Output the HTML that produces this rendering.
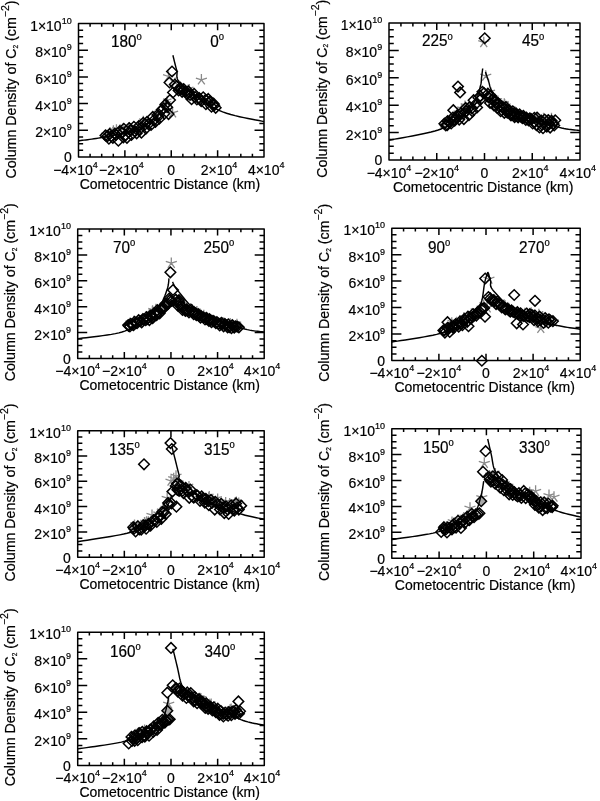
<!DOCTYPE html>
<html><head><meta charset="utf-8"><style>
html,body{margin:0;padding:0;background:#fff;}
svg{display:block;}
text{font-family:"Liberation Sans", Arial, Helvetica, sans-serif;fill:#000;stroke:#000;stroke-width:0.2px;}
</style></head><body>
<svg width="600" height="801" viewBox="0 0 600 801" font-size="14.0">
<rect width="600" height="801" fill="#fff"/>
<g><g><path d="M113.41 129.72L113.41 125.22M113.41 129.72L109.13 128.33M113.41 129.72L110.76 133.36M113.41 129.72L116.05 133.36M113.41 129.72L117.69 128.33M130.41 127.55L130.41 123.05M130.41 127.55L126.13 126.16M130.41 127.55L127.77 131.19M130.41 127.55L133.06 131.19M130.41 127.55L134.69 126.16M110.24 131.67L110.24 127.17M110.24 131.67L105.96 130.28M110.24 131.67L107.59 135.32M110.24 131.67L112.88 135.32M110.24 131.67L114.52 130.28M140.71 124.18L140.71 119.68M140.71 124.18L136.43 122.79M140.71 124.18L138.07 127.82M140.71 124.18L143.36 127.82M140.71 124.18L144.99 122.79M158.25 112.44L158.25 107.94M158.25 112.44L153.97 111.05M158.25 112.44L155.61 116.08M158.25 112.44L160.90 116.08M158.25 112.44L162.53 111.05M123.10 127.65L123.10 123.15M123.10 127.65L118.82 126.26M123.10 127.65L120.45 131.29M123.10 127.65L125.74 131.29M123.10 127.65L127.38 126.26M128.32 128.31L128.32 123.81M128.32 128.31L124.04 126.92M128.32 128.31L125.68 131.95M128.32 128.31L130.97 131.95M128.32 128.31L132.60 126.92M167.25 100.25L167.25 95.75M167.25 100.25L162.97 98.86M167.25 100.25L164.61 103.90M167.25 100.25L169.90 103.90M167.25 100.25L171.53 98.86M116.45 128.72L116.45 124.22M116.45 128.72L112.17 127.33M116.45 128.72L113.81 132.36M116.45 128.72L119.10 132.36M116.45 128.72L120.73 127.33M120.17 128.87L120.17 124.37M120.17 128.87L115.89 127.48M120.17 128.87L117.52 132.52M120.17 128.87L122.81 132.52M120.17 128.87L124.45 127.48M143.29 120.22L143.29 115.72M143.29 120.22L139.01 118.83M143.29 120.22L140.65 123.86M143.29 120.22L145.94 123.86M143.29 120.22L147.57 118.83M105.27 134.44L105.27 129.94M105.27 134.44L100.99 133.04M105.27 134.44L102.62 138.08M105.27 134.44L107.91 138.08M105.27 134.44L109.55 133.04M129.00 126.50L129.00 122.00M129.00 126.50L124.72 125.11M129.00 126.50L126.36 130.14M129.00 126.50L131.65 130.14M129.00 126.50L133.28 125.11M166.95 102.95L166.95 98.45M166.95 102.95L162.67 101.56M166.95 102.95L164.31 106.59M166.95 102.95L169.60 106.59M166.95 102.95L171.23 101.56M196.90 95.66L196.90 91.16M196.90 95.66L192.62 94.27M196.90 95.66L194.26 99.30M196.90 95.66L199.55 99.30M196.90 95.66L201.18 94.27M188.18 89.07L188.18 84.57M188.18 89.07L183.90 87.68M188.18 89.07L185.53 92.71M188.18 89.07L190.82 92.71M188.18 89.07L192.46 87.68M208.89 100.87L208.89 96.37M208.89 100.87L204.62 99.48M208.89 100.87L206.25 104.51M208.89 100.87L211.54 104.51M208.89 100.87L213.17 99.48M210.66 101.06L210.66 96.56M210.66 101.06L206.38 99.67M210.66 101.06L208.02 104.70M210.66 101.06L213.31 104.70M210.66 101.06L214.94 99.67M209.19 99.79L209.19 95.29M209.19 99.79L204.91 98.40M209.19 99.79L206.54 103.43M209.19 99.79L211.83 103.43M209.19 99.79L213.47 98.40M183.75 88.59L183.75 84.09M183.75 88.59L179.47 87.20M183.75 88.59L181.10 92.23M183.75 88.59L186.39 92.23M183.75 88.59L188.03 87.20M189.29 88.43L189.29 83.93M189.29 88.43L185.01 87.04M189.29 88.43L186.64 92.07M189.29 88.43L191.93 92.07M189.29 88.43L193.57 87.04M175.20 82.00L175.20 77.50M175.20 82.00L170.92 80.61M175.20 82.00L172.56 85.64M175.20 82.00L177.85 85.64M175.20 82.00L179.48 80.61M185.14 90.51L185.14 86.01M185.14 90.51L180.86 89.12M185.14 90.51L182.50 94.15M185.14 90.51L187.79 94.15M185.14 90.51L189.42 89.12M201.40 79.80L201.40 74.00M201.40 79.80L195.88 78.01M201.40 79.80L197.99 84.49M201.40 79.80L204.81 84.49M201.40 79.80L206.92 78.01M172.60 112.80L172.60 107.00M172.60 112.80L167.08 111.01M172.60 112.80L169.19 117.49M172.60 112.80L176.01 117.49M172.60 112.80L178.12 111.01M168.50 76.50L168.50 70.70M168.50 76.50L162.98 74.71M168.50 76.50L165.09 81.19M168.50 76.50L171.91 81.19M168.50 76.50L174.02 74.71" stroke="#8a8a8a" stroke-width="1.3" fill="none"/><g stroke="#000" stroke-width="1.5" fill="none"><path d="M105.50 130.10L110.80 135.40L105.50 140.70L100.20 135.40Z" fill="none"/><path d="M107.56 130.74L112.86 136.04L107.56 141.34L102.26 136.04Z" fill="none"/><path d="M108.92 133.39L114.22 138.69L108.92 143.99L103.62 138.69Z" fill="none"/><path d="M109.73 128.67L115.03 133.97L109.73 139.27L104.43 133.97Z" fill="none"/><path d="M111.25 130.87L116.55 136.17L111.25 141.47L105.95 136.17Z" fill="none"/><path d="M112.85 132.65L118.15 137.95L112.85 143.25L107.55 137.95Z" fill="none"/><path d="M114.94 128.42L120.24 133.72L114.94 139.02L109.64 133.72Z" fill="none"/><path d="M116.02 129.56L121.32 134.86L116.02 140.16L110.72 134.86Z" fill="none"/><path d="M118.35 135.40L123.65 140.70L118.35 146.00L113.05 140.70Z" fill="none"/><path d="M119.82 125.73L125.12 131.03L119.82 136.33L114.52 131.03Z" fill="none"/><path d="M121.99 127.62L127.29 132.92L121.99 138.22L116.69 132.92Z" fill="none"/><path d="M123.35 132.14L128.65 137.44L123.35 142.74L118.05 137.44Z" fill="none"/><path d="M123.79 123.52L129.09 128.82L123.79 134.12L118.49 128.82Z" fill="none"/><path d="M125.60 129.79L130.90 135.09L125.60 140.39L120.30 135.09Z" fill="none"/><path d="M126.95 132.49L132.25 137.79L126.95 143.09L121.65 137.79Z" fill="none"/><path d="M129.20 122.82L134.50 128.12L129.20 133.42L123.90 128.12Z" fill="none"/><path d="M130.61 125.21L135.91 130.51L130.61 135.81L125.31 130.51Z" fill="none"/><path d="M131.40 129.70L136.70 135.00L131.40 140.30L126.10 135.00Z" fill="none"/><path d="M133.91 121.48L139.21 126.78L133.91 132.08L128.61 126.78Z" fill="none"/><path d="M134.89 125.84L140.19 131.14L134.89 136.44L129.59 131.14Z" fill="none"/><path d="M136.65 127.97L141.95 133.27L136.65 138.57L131.35 133.27Z" fill="none"/><path d="M138.73 120.84L144.03 126.14L138.73 131.44L133.43 126.14Z" fill="none"/><path d="M139.43 123.97L144.73 129.27L139.43 134.57L134.13 129.27Z" fill="none"/><path d="M141.41 127.35L146.71 132.65L141.41 137.95L136.11 132.65Z" fill="none"/><path d="M143.27 117.50L148.57 122.80L143.27 128.10L137.97 122.80Z" fill="none"/><path d="M145.21 119.07L150.51 124.37L145.21 129.67L139.91 124.37Z" fill="none"/><path d="M145.89 123.25L151.19 128.55L145.89 133.85L140.59 128.55Z" fill="none"/><path d="M147.02 116.65L152.32 121.95L147.02 127.25L141.72 121.95Z" fill="none"/><path d="M148.39 118.91L153.69 124.21L148.39 129.51L143.09 124.21Z" fill="none"/><path d="M151.06 119.70L156.36 125.00L151.06 130.30L145.76 125.00Z" fill="none"/><path d="M152.78 111.64L158.08 116.94L152.78 122.24L147.48 116.94Z" fill="none"/><path d="M154.05 114.72L159.35 120.02L154.05 125.32L148.75 120.02Z" fill="none"/><path d="M155.42 116.49L160.72 121.79L155.42 127.09L150.12 121.79Z" fill="none"/><path d="M157.37 109.76L162.67 115.06L157.37 120.36L152.07 115.06Z" fill="none"/><path d="M158.35 111.04L163.65 116.34L158.35 121.64L153.05 116.34Z" fill="none"/><path d="M159.26 113.43L164.56 118.73L159.26 124.03L153.96 118.73Z" fill="none"/><path d="M161.72 104.39L167.02 109.69L161.72 114.99L156.42 109.69Z" fill="none"/><path d="M163.53 103.15L168.83 108.45L163.53 113.75L158.23 108.45Z" fill="none"/><path d="M164.41 108.32L169.71 113.62L164.41 118.92L159.11 113.62Z" fill="none"/><path d="M165.39 99.12L170.69 104.42L165.39 109.72L160.09 104.42Z" fill="none"/><path d="M167.16 101.85L172.46 107.15L167.16 112.45L161.86 107.15Z" fill="none"/><path d="M168.54 108.73L173.84 114.03L168.54 119.33L163.24 114.03Z" fill="none"/><path d="M174.82 79.26L180.12 84.56L174.82 89.86L169.52 84.56Z" fill="none"/><path d="M176.67 80.97L181.97 86.27L176.67 91.57L171.37 86.27Z" fill="none"/><path d="M178.62 85.11L183.92 90.41L178.62 95.71L173.32 90.41Z" fill="none"/><path d="M180.17 82.28L185.47 87.58L180.17 92.88L174.87 87.58Z" fill="none"/><path d="M181.00 83.88L186.30 89.18L181.00 94.48L175.70 89.18Z" fill="none"/><path d="M182.13 86.48L187.43 91.78L182.13 97.08L176.83 91.78Z" fill="none"/><path d="M183.65 83.71L188.95 89.01L183.65 94.31L178.35 89.01Z" fill="none"/><path d="M185.48 86.35L190.78 91.65L185.48 96.95L180.18 91.65Z" fill="none"/><path d="M187.28 89.03L192.58 94.33L187.28 99.63L181.98 94.33Z" fill="none"/><path d="M188.33 86.01L193.63 91.31L188.33 96.61L183.03 91.31Z" fill="none"/><path d="M190.09 89.64L195.39 94.94L190.09 100.24L184.79 94.94Z" fill="none"/><path d="M191.56 93.87L196.86 99.17L191.56 104.47L186.26 99.17Z" fill="none"/><path d="M194.09 88.58L199.39 93.88L194.09 99.18L188.79 93.88Z" fill="none"/><path d="M195.11 91.67L200.41 96.97L195.11 102.27L189.81 96.97Z" fill="none"/><path d="M196.88 94.18L202.18 99.48L196.88 104.78L191.58 99.48Z" fill="none"/><path d="M199.24 92.69L204.54 97.99L199.24 103.29L193.94 97.99Z" fill="none"/><path d="M200.22 94.21L205.52 99.51L200.22 104.81L194.92 99.51Z" fill="none"/><path d="M201.21 95.85L206.51 101.15L201.21 106.45L195.91 101.15Z" fill="none"/><path d="M203.21 91.96L208.51 97.26L203.21 102.56L197.91 97.26Z" fill="none"/><path d="M205.58 94.68L210.88 99.98L205.58 105.28L200.28 99.98Z" fill="none"/><path d="M205.89 98.94L211.19 104.24L205.89 109.54L200.59 104.24Z" fill="none"/><path d="M208.29 93.67L213.59 98.97L208.29 104.27L202.99 98.97Z" fill="none"/><path d="M209.90 96.38L215.20 101.68L209.90 106.98L204.60 101.68Z" fill="none"/><path d="M211.47 101.39L216.77 106.69L211.47 111.99L206.17 106.69Z" fill="none"/><path d="M213.60 98.34L218.90 103.64L213.60 108.94L208.30 103.64Z" fill="none"/><path d="M214.23 99.97L219.53 105.27L214.23 110.57L208.93 105.27Z" fill="none"/><path d="M215.67 102.50L220.97 107.80L215.67 113.10L210.37 107.80Z" fill="none"/><path d="M172.00 66.20L177.30 71.50L172.00 76.80L166.70 71.50Z" fill="none"/><path d="M169.50 77.20L174.80 82.50L169.50 87.80L164.20 82.50Z" fill="none"/><path d="M173.00 87.20L178.30 92.50L173.00 97.80L167.70 92.50Z" fill="none"/><path d="M170.00 94.70L175.30 100.00L170.00 105.30L164.70 100.00Z" fill="none"/></g><path d="M78.50 140.80 L79.54 140.66 L80.81 140.50 L82.28 140.33 L83.93 140.13 L85.73 139.91 L87.66 139.67 L89.69 139.40 L91.80 139.11 L93.96 138.80 L96.14 138.46 L98.33 138.09 L100.50 137.70 L102.73 137.28 L105.09 136.82 L107.57 136.33 L110.13 135.82 L112.74 135.28 L115.38 134.72 L118.00 134.14 L120.59 133.54 L123.12 132.92 L125.55 132.29 L127.85 131.65 L130.00 131.00 L132.02 130.34 L133.98 129.66 L135.86 128.96 L137.67 128.24 L139.41 127.51 L141.09 126.77 L142.71 126.01 L144.28 125.23 L145.79 124.44 L147.24 123.64 L148.64 122.83 L150.00 122.00 L151.30 121.15 L152.53 120.28 L153.70 119.39 L154.81 118.48 L155.87 117.56 L156.88 116.62 L157.83 115.68 L158.74 114.74 L159.61 113.80 L160.44 112.86 L161.24 111.92 L162.00 111.00 L162.73 110.05 L163.42 109.04 L164.06 107.99 L164.67 106.93 L165.23 105.86 L165.75 104.81 L166.23 103.80 L166.67 102.85 L167.06 101.98 L167.42 101.20 L167.73 100.53 L168.00 100.00" stroke="#000" stroke-width="1.45" fill="none"/><path d="M172.90 55.25 L173.08 55.98 L173.30 56.89 L173.56 57.96 L173.86 59.16 L174.17 60.47 L174.51 61.85 L174.87 63.28 L175.23 64.73 L175.60 66.18 L175.98 67.59 L176.34 68.94 L176.70 70.20 L176.95 71.36 L177.04 72.45 L177.02 73.48 L176.95 74.49 L176.88 75.48 L176.88 76.50 L177.00 77.55 L177.29 78.66 L177.80 79.86 L178.61 81.17 L179.76 82.61 L181.30 84.20 L183.26 86.00 L185.58 88.03 L188.23 90.24 L191.14 92.59 L194.29 95.01 L197.63 97.47 L201.10 99.93 L204.67 102.33 L208.29 104.62 L211.91 106.76 L215.50 108.70 L219.00 110.40 L222.64 111.89 L226.60 113.26 L230.79 114.52 L235.13 115.66 L239.51 116.70 L243.86 117.64 L248.07 118.49 L252.06 119.25 L255.74 119.94 L259.02 120.56 L261.80 121.11 L264.00 121.60" stroke="#000" stroke-width="1.45" fill="none"/></g><path d="M90.09 157.00V153.66M90.09 23.50V26.84M101.69 157.00V153.66M101.69 23.50V26.84M113.28 157.00V153.66M113.28 23.50V26.84M124.88 157.00V150.19M124.88 23.50V30.31M136.47 157.00V153.66M136.47 23.50V26.84M148.06 157.00V153.66M148.06 23.50V26.84M159.66 157.00V153.66M159.66 23.50V26.84M171.25 157.00V150.19M171.25 23.50V30.31M182.84 157.00V153.66M182.84 23.50V26.84M194.44 157.00V153.66M194.44 23.50V26.84M206.03 157.00V153.66M206.03 23.50V26.84M217.62 157.00V150.19M217.62 23.50V30.31M229.22 157.00V153.66M229.22 23.50V26.84M240.81 157.00V153.66M240.81 23.50V26.84M252.41 157.00V153.66M252.41 23.50V26.84M78.50 150.32H83.14M264.00 150.32H259.36M78.50 143.65H83.14M264.00 143.65H259.36M78.50 136.97H83.14M264.00 136.97H259.36M78.50 130.30H87.96M264.00 130.30H254.54M78.50 123.62H83.14M264.00 123.62H259.36M78.50 116.95H83.14M264.00 116.95H259.36M78.50 110.28H83.14M264.00 110.28H259.36M78.50 103.60H87.96M264.00 103.60H254.54M78.50 96.92H83.14M264.00 96.92H259.36M78.50 90.25H83.14M264.00 90.25H259.36M78.50 83.57H83.14M264.00 83.57H259.36M78.50 76.90H87.96M264.00 76.90H254.54M78.50 70.22H83.14M264.00 70.22H259.36M78.50 63.55H83.14M264.00 63.55H259.36M78.50 56.88H83.14M264.00 56.88H259.36M78.50 50.20H87.96M264.00 50.20H254.54M78.50 43.53H83.14M264.00 43.53H259.36M78.50 36.85H83.14M264.00 36.85H259.36M78.50 30.18H83.14M264.00 30.18H259.36" stroke="#000" stroke-width="1.5" fill="none"/><rect x="78.50" y="23.50" width="185.50" height="133.50" stroke="#000" stroke-width="1.5" stroke-linejoin="round" fill="none"/><text x="71.70" y="162.30" text-anchor="end">0</text><text x="71.70" y="137.30" text-anchor="end">2×10<tspan dy="-7.0" font-size="9.0">9</tspan></text><text x="71.70" y="110.60" text-anchor="end">4×10<tspan dy="-7.0" font-size="9.0">9</tspan></text><text x="71.70" y="83.90" text-anchor="end">6×10<tspan dy="-7.0" font-size="9.0">9</tspan></text><text x="71.70" y="57.20" text-anchor="end">8×10<tspan dy="-7.0" font-size="9.0">9</tspan></text><text x="71.70" y="30.50" text-anchor="end">1×10<tspan dy="-7.0" font-size="9.0">10</tspan></text><text x="75.50" y="175.20" text-anchor="middle">−4×10<tspan dy="-7.0" font-size="9.0">4</tspan></text><text x="121.47" y="175.20" text-anchor="middle">−2×10<tspan dy="-7.0" font-size="9.0">4</tspan></text><text x="171.25" y="175.20" text-anchor="middle">0</text><text x="219.03" y="175.20" text-anchor="middle">2×10<tspan dy="-7.0" font-size="9.0">4</tspan></text><text x="266.20" y="175.20" text-anchor="middle">4×10<tspan dy="-7.0" font-size="9.0">4</tspan></text><text x="169.95" y="188.60" text-anchor="middle">Cometocentric Distance (km)</text><text transform="translate(16.00 89.55) rotate(-90)" x="0" y="0" text-anchor="middle" font-size="14.2">Column Density of C<tspan dy="1.6" font-size="6.5">2</tspan><tspan dy="-1.6"> (cm</tspan><tspan dy="-7.5" font-size="10.5">−2</tspan><tspan dy="7.5">)</tspan></text><text transform="translate(110.90 47.20) scale(1 1.07)" x="0" y="0" font-size="15.3">180<tspan dy="-6.3" font-size="9.5">o</tspan></text><text transform="translate(210.30 47.20) scale(1 1.07)" x="0" y="0" font-size="15.3">0<tspan dy="-6.3" font-size="9.5">o</tspan></text></g><g><g><path d="M448.51 121.60L448.51 117.10M448.51 121.60L444.23 120.21M448.51 121.60L445.86 125.24M448.51 121.60L451.15 125.24M448.51 121.60L452.78 120.21M457.86 112.29L457.86 107.79M457.86 112.29L453.58 110.90M457.86 112.29L455.21 115.93M457.86 112.29L460.50 115.93M457.86 112.29L462.14 110.90M467.50 107.38L467.50 102.88M467.50 107.38L463.22 105.99M467.50 107.38L464.86 111.02M467.50 107.38L470.15 111.02M467.50 107.38L471.78 105.99M460.67 112.62L460.67 108.12M460.67 112.62L456.39 111.23M460.67 112.62L458.02 116.26M460.67 112.62L463.31 116.26M460.67 112.62L464.95 111.23M464.07 108.31L464.07 103.81M464.07 108.31L459.79 106.92M464.07 108.31L461.42 111.95M464.07 108.31L466.71 111.95M464.07 108.31L468.35 106.92M464.99 105.10L464.99 100.60M464.99 105.10L460.71 103.71M464.99 105.10L462.34 108.74M464.99 105.10L467.63 108.74M464.99 105.10L469.27 103.71M461.49 108.38L461.49 103.88M461.49 108.38L457.21 106.99M461.49 108.38L458.84 112.02M461.49 108.38L464.13 112.02M461.49 108.38L465.77 106.99M443.17 124.78L443.17 120.28M443.17 124.78L438.89 123.39M443.17 124.78L440.52 128.42M443.17 124.78L445.81 128.42M443.17 124.78L447.44 123.39M450.24 118.18L450.24 113.68M450.24 118.18L445.96 116.79M450.24 118.18L447.59 121.82M450.24 118.18L452.88 121.82M450.24 118.18L454.52 116.79M504.28 102.65L504.28 98.15M504.28 102.65L500.00 101.25M504.28 102.65L501.64 106.29M504.28 102.65L506.93 106.29M504.28 102.65L508.56 101.25M537.58 117.13L537.58 112.63M537.58 117.13L533.30 115.74M537.58 117.13L534.94 120.77M537.58 117.13L540.23 120.77M537.58 117.13L541.86 115.74M500.07 102.42L500.07 97.92M500.07 102.42L495.79 101.03M500.07 102.42L497.43 106.06M500.07 102.42L502.72 106.06M500.07 102.42L504.35 101.03M551.49 117.24L551.49 112.74M551.49 117.24L547.21 115.85M551.49 117.24L548.85 120.88M551.49 117.24L554.14 120.88M551.49 117.24L555.77 115.85M543.51 117.36L543.51 112.86M543.51 117.36L539.23 115.97M543.51 117.36L540.86 121.00M543.51 117.36L546.15 121.00M543.51 117.36L547.79 115.97M521.16 115.52L521.16 111.02M521.16 115.52L516.88 114.13M521.16 115.52L518.51 119.16M521.16 115.52L523.80 119.16M521.16 115.52L525.43 114.13M514.12 111.18L514.12 106.68M514.12 111.18L509.84 109.79M514.12 111.18L511.48 114.82M514.12 111.18L516.77 114.82M514.12 111.18L518.40 109.79M534.45 119.13L534.45 114.63M534.45 119.13L530.17 117.74M534.45 119.13L531.81 122.78M534.45 119.13L537.10 122.78M534.45 119.13L538.73 117.74M510.65 111.42L510.65 106.92M510.65 111.42L506.37 110.03M510.65 111.42L508.00 115.06M510.65 111.42L513.29 115.06M510.65 111.42L514.93 110.03M535.76 117.47L535.76 112.97M535.76 117.47L531.48 116.08M535.76 117.47L533.12 121.11M535.76 117.47L538.41 121.11M535.76 117.47L540.04 116.08M514.92 110.71L514.92 106.21M514.92 110.71L510.64 109.32M514.92 110.71L512.28 114.35M514.92 110.71L517.57 114.35M514.92 110.71L519.20 109.32M490.75 91.40L490.75 86.90M490.75 91.40L486.47 90.01M490.75 91.40L488.11 95.04M490.75 91.40L493.40 95.04M490.75 91.40L495.03 90.01M491.88 95.58L491.88 91.08M491.88 95.58L487.60 94.19M491.88 95.58L489.23 99.22M491.88 95.58L494.52 99.22M491.88 95.58L496.16 94.19M504.64 103.60L504.64 99.10M504.64 103.60L500.36 102.21M504.64 103.60L501.99 107.24M504.64 103.60L507.28 107.24M504.64 103.60L508.92 102.21M492.83 97.04L492.83 92.54M492.83 97.04L488.55 95.65M492.83 97.04L490.18 100.68M492.83 97.04L495.47 100.68M492.83 97.04L497.11 95.65M547.07 119.27L547.07 114.77M547.07 119.27L542.79 117.88M547.07 119.27L544.42 122.91M547.07 119.27L549.71 122.91M547.07 119.27L551.35 117.88M506.45 105.37L506.45 100.87M506.45 105.37L502.17 103.98M506.45 105.37L503.81 109.01M506.45 105.37L509.10 109.01M506.45 105.37L510.73 103.98M507.22 107.07L507.22 102.57M507.22 107.07L502.94 105.68M507.22 107.07L504.58 110.71M507.22 107.07L509.87 110.71M507.22 107.07L511.50 105.68M497.87 100.10L497.87 95.60M497.87 100.10L493.59 98.71M497.87 100.10L495.22 103.74M497.87 100.10L500.51 103.74M497.87 100.10L502.15 98.71M505.16 107.94L505.16 103.44M505.16 107.94L500.88 106.55M505.16 107.94L502.52 111.58M505.16 107.94L507.81 111.58M505.16 107.94L509.44 106.55M483.75 42.50L483.75 36.70M483.75 42.50L478.23 40.71M483.75 42.50L480.34 47.19M483.75 42.50L487.16 47.19M483.75 42.50L489.27 40.71M485.75 76.00L485.75 70.20M485.75 76.00L480.23 74.21M485.75 76.00L482.34 80.69M485.75 76.00L489.16 80.69M485.75 76.00L491.27 74.21" stroke="#8a8a8a" stroke-width="1.3" fill="none"/><g stroke="#000" stroke-width="1.5" fill="none"><path d="M444.39 118.40L449.69 123.70L444.39 129.00L439.09 123.70Z" fill="none"/><path d="M445.81 120.08L451.11 125.38L445.81 130.68L440.51 125.38Z" fill="none"/><path d="M447.28 119.74L452.58 125.04L447.28 130.34L441.98 125.04Z" fill="none"/><path d="M447.66 115.73L452.96 121.03L447.66 126.33L442.36 121.03Z" fill="none"/><path d="M449.08 116.47L454.38 121.77L449.08 127.07L443.78 121.77Z" fill="none"/><path d="M451.15 118.09L456.45 123.39L451.15 128.69L445.85 123.39Z" fill="none"/><path d="M452.91 112.29L458.21 117.59L452.91 122.89L447.61 117.59Z" fill="none"/><path d="M454.08 113.96L459.38 119.26L454.08 124.56L448.78 119.26Z" fill="none"/><path d="M454.71 115.22L460.01 120.52L454.71 125.82L449.41 120.52Z" fill="none"/><path d="M457.35 109.92L462.65 115.22L457.35 120.52L452.05 115.22Z" fill="none"/><path d="M458.57 111.04L463.87 116.34L458.57 121.64L453.27 116.34Z" fill="none"/><path d="M459.19 114.29L464.49 119.59L459.19 124.89L453.89 119.59Z" fill="none"/><path d="M460.86 107.98L466.16 113.28L460.86 118.58L455.56 113.28Z" fill="none"/><path d="M463.23 108.64L468.53 113.94L463.23 119.24L457.93 113.94Z" fill="none"/><path d="M463.86 113.74L469.16 119.04L463.86 124.34L458.56 119.04Z" fill="none"/><path d="M465.77 102.66L471.07 107.96L465.77 113.26L460.47 107.96Z" fill="none"/><path d="M466.36 105.79L471.66 111.09L466.36 116.39L461.06 111.09Z" fill="none"/><path d="M468.93 109.83L474.23 115.13L468.93 120.43L463.63 115.13Z" fill="none"/><path d="M469.28 102.13L474.58 107.43L469.28 112.73L463.98 107.43Z" fill="none"/><path d="M471.94 103.05L477.24 108.35L471.94 113.65L466.64 108.35Z" fill="none"/><path d="M472.47 105.98L477.77 111.28L472.47 116.58L467.17 111.28Z" fill="none"/><path d="M473.60 94.89L478.90 100.19L473.60 105.49L468.30 100.19Z" fill="none"/><path d="M476.27 98.29L481.57 103.59L476.27 108.89L470.97 103.59Z" fill="none"/><path d="M477.07 102.13L482.37 107.43L477.07 112.73L471.77 107.43Z" fill="none"/><path d="M478.39 92.43L483.69 97.73L478.39 103.03L473.09 97.73Z" fill="none"/><path d="M480.40 90.88L485.70 96.18L480.40 101.48L475.10 96.18Z" fill="none"/><path d="M481.02 93.68L486.32 98.98L481.02 104.28L475.72 98.98Z" fill="none"/><path d="M482.45 86.47L487.75 91.77L482.45 97.07L477.15 91.77Z" fill="none"/><path d="M483.93 87.88L489.23 93.18L483.93 98.48L478.63 93.18Z" fill="none"/><path d="M487.86 88.37L493.16 93.67L487.86 98.97L482.56 93.67Z" fill="none"/><path d="M488.58 92.10L493.88 97.40L488.58 102.70L483.28 97.40Z" fill="none"/><path d="M490.04 97.68L495.34 102.98L490.04 108.28L484.74 102.98Z" fill="none"/><path d="M490.70 90.38L496.00 95.68L490.70 100.98L485.40 95.68Z" fill="none"/><path d="M492.05 94.19L497.35 99.49L492.05 104.79L486.75 99.49Z" fill="none"/><path d="M493.87 100.06L499.17 105.36L493.87 110.66L488.57 105.36Z" fill="none"/><path d="M494.81 95.05L500.11 100.35L494.81 105.65L489.51 100.35Z" fill="none"/><path d="M496.41 98.65L501.71 103.95L496.41 109.25L491.11 103.95Z" fill="none"/><path d="M497.25 102.55L502.55 107.85L497.25 113.15L491.95 107.85Z" fill="none"/><path d="M498.32 98.02L503.62 103.32L498.32 108.62L493.02 103.32Z" fill="none"/><path d="M499.43 101.34L504.73 106.64L499.43 111.94L494.13 106.64Z" fill="none"/><path d="M500.65 105.84L505.95 111.14L500.65 116.44L495.35 111.14Z" fill="none"/><path d="M502.11 101.21L507.41 106.51L502.11 111.81L496.81 106.51Z" fill="none"/><path d="M503.59 102.98L508.89 108.28L503.59 113.58L498.29 108.28Z" fill="none"/><path d="M504.32 107.51L509.62 112.81L504.32 118.11L499.02 112.81Z" fill="none"/><path d="M505.84 101.69L511.14 106.99L505.84 112.29L500.54 106.99Z" fill="none"/><path d="M506.18 104.93L511.48 110.23L506.18 115.53L500.88 110.23Z" fill="none"/><path d="M507.31 107.36L512.61 112.66L507.31 117.96L502.01 112.66Z" fill="none"/><path d="M508.50 104.85L513.80 110.15L508.50 115.45L503.20 110.15Z" fill="none"/><path d="M510.54 108.38L515.84 113.68L510.54 118.98L505.24 113.68Z" fill="none"/><path d="M510.98 110.03L516.28 115.33L510.98 120.63L505.68 115.33Z" fill="none"/><path d="M512.77 106.06L518.07 111.36L512.77 116.66L507.47 111.36Z" fill="none"/><path d="M514.22 109.86L519.52 115.16L514.22 120.46L508.92 115.16Z" fill="none"/><path d="M514.62 111.73L519.92 117.03L514.62 122.33L509.32 117.03Z" fill="none"/><path d="M516.03 107.95L521.33 113.25L516.03 118.55L510.73 113.25Z" fill="none"/><path d="M517.92 110.99L523.22 116.29L517.92 121.59L512.62 116.29Z" fill="none"/><path d="M518.12 112.08L523.42 117.38L518.12 122.68L512.82 117.38Z" fill="none"/><path d="M519.73 109.16L525.03 114.46L519.73 119.76L514.43 114.46Z" fill="none"/><path d="M520.54 111.06L525.84 116.36L520.54 121.66L515.24 116.36Z" fill="none"/><path d="M522.36 112.77L527.66 118.07L522.36 123.37L517.06 118.07Z" fill="none"/><path d="M523.35 110.44L528.65 115.74L523.35 121.04L518.05 115.74Z" fill="none"/><path d="M523.90 112.09L529.20 117.39L523.90 122.69L518.60 117.39Z" fill="none"/><path d="M525.81 114.63L531.11 119.93L525.81 125.23L520.51 119.93Z" fill="none"/><path d="M526.34 112.24L531.64 117.54L526.34 122.84L521.04 117.54Z" fill="none"/><path d="M528.39 114.50L533.69 119.80L528.39 125.10L523.09 119.80Z" fill="none"/><path d="M528.76 115.10L534.06 120.40L528.76 125.70L523.46 120.40Z" fill="none"/><path d="M529.87 112.96L535.17 118.26L529.87 123.56L524.57 118.26Z" fill="none"/><path d="M531.34 113.93L536.64 119.23L531.34 124.53L526.04 119.23Z" fill="none"/><path d="M532.71 118.13L538.01 123.43L532.71 128.73L527.41 123.43Z" fill="none"/><path d="M534.37 112.56L539.67 117.86L534.37 123.16L529.07 117.86Z" fill="none"/><path d="M534.76 116.81L540.06 122.11L534.76 127.41L529.46 122.11Z" fill="none"/><path d="M536.45 119.72L541.75 125.02L536.45 130.32L531.15 125.02Z" fill="none"/><path d="M537.07 112.22L542.37 117.52L537.07 122.82L531.77 117.52Z" fill="none"/><path d="M538.97 116.87L544.27 122.17L538.97 127.47L533.67 122.17Z" fill="none"/><path d="M539.43 122.15L544.73 127.45L539.43 132.75L534.13 127.45Z" fill="none"/><path d="M541.29 115.28L546.59 120.58L541.29 125.88L535.99 120.58Z" fill="none"/><path d="M541.82 119.12L547.12 124.42L541.82 129.72L536.52 124.42Z" fill="none"/><path d="M542.99 122.96L548.29 128.26L542.99 133.56L537.69 128.26Z" fill="none"/><path d="M544.64 114.34L549.94 119.64L544.64 124.94L539.34 119.64Z" fill="none"/><path d="M545.95 120.32L551.25 125.62L545.95 130.92L540.65 125.62Z" fill="none"/><path d="M546.80 121.25L552.10 126.55L546.80 131.85L541.50 126.55Z" fill="none"/><path d="M548.30 114.73L553.60 120.03L548.30 125.33L543.00 120.03Z" fill="none"/><path d="M548.99 118.24L554.29 123.54L548.99 128.84L543.69 123.54Z" fill="none"/><path d="M550.11 122.22L555.41 127.52L550.11 132.82L544.81 127.52Z" fill="none"/><path d="M551.61 115.41L556.91 120.71L551.61 126.01L546.31 120.71Z" fill="none"/><path d="M553.33 118.20L558.63 123.50L553.33 128.80L548.03 123.50Z" fill="none"/><path d="M554.22 120.21L559.52 125.51L554.22 130.81L548.92 125.51Z" fill="none"/><path d="M555.22 114.98L560.52 120.28L555.22 125.58L549.92 120.28Z" fill="none"/><path d="M484.75 32.95L490.05 38.25L484.75 43.55L479.45 38.25Z" fill="none"/><path d="M458.00 81.30L463.30 86.60L458.00 91.90L452.70 86.60Z" fill="none"/><path d="M460.10 87.10L465.40 92.40L460.10 97.70L454.80 92.40Z" fill="none"/><path d="M453.30 104.90L458.60 110.20L453.30 115.50L448.00 110.20Z" fill="none"/></g><path d="M389.00 140.20 L391.46 139.72 L394.67 139.13 L398.48 138.46 L402.77 137.70 L407.40 136.87 L412.24 135.97 L417.15 135.04 L422.01 134.06 L426.67 133.06 L431.02 132.04 L434.90 131.02 L438.20 130.00 L441.00 128.97 L443.50 127.90 L445.74 126.79 L447.75 125.65 L449.57 124.49 L451.24 123.30 L452.79 122.10 L454.25 120.88 L455.67 119.66 L457.08 118.44 L458.51 117.21 L460.00 116.00 L461.52 114.79 L463.00 113.56 L464.45 112.33 L465.86 111.09 L467.21 109.84 L468.52 108.58 L469.77 107.32 L470.96 106.06 L472.08 104.79 L473.13 103.53 L474.10 102.26 L475.00 101.00 L475.80 99.71 L476.52 98.39 L477.15 97.04 L477.70 95.67 L478.19 94.31 L478.62 92.95 L479.00 91.62 L479.34 90.31 L479.66 89.06 L479.95 87.87 L480.23 86.74 L480.50 85.70 L480.75 84.75 L480.94 83.88 L481.08 83.08 L481.19 82.34 L481.27 81.64 L481.32 80.98 L481.36 80.34 L481.40 79.72 L481.43 79.09 L481.47 78.46 L481.52 77.80 L481.60 77.10 L481.70 76.36 L481.80 75.57 L481.90 74.75 L482.01 73.91 L482.11 73.08 L482.22 72.26 L482.32 71.47 L482.41 70.73 L482.50 70.05 L482.58 69.44 L482.65 68.92 L482.70 68.50" stroke="#000" stroke-width="1.45" fill="none"/><path d="M485.50 72.00 L485.65 72.44 L485.83 73.00 L486.05 73.64 L486.29 74.37 L486.55 75.16 L486.83 76.00 L487.12 76.87 L487.42 77.76 L487.72 78.65 L488.01 79.52 L488.29 80.36 L488.55 81.15 L488.79 81.91 L489.00 82.67 L489.19 83.42 L489.37 84.18 L489.55 84.93 L489.74 85.69 L489.95 86.45 L490.19 87.21 L490.46 87.97 L490.78 88.74 L491.16 89.52 L491.60 90.30 L492.08 91.08 L492.56 91.86 L493.05 92.63 L493.57 93.41 L494.13 94.19 L494.74 94.97 L495.41 95.77 L496.14 96.58 L496.96 97.40 L497.87 98.24 L498.88 99.11 L500.00 100.00 L501.21 100.91 L502.47 101.84 L503.79 102.78 L505.19 103.73 L506.67 104.70 L508.23 105.69 L509.90 106.69 L511.67 107.71 L513.55 108.76 L515.57 109.82 L517.71 110.90 L520.00 112.00 L522.52 113.16 L525.31 114.42 L528.31 115.74 L531.49 117.10 L534.79 118.48 L538.14 119.86 L541.51 121.20 L544.84 122.50 L548.08 123.72 L551.17 124.84 L554.06 125.84 L556.70 126.70 L559.18 127.42 L561.63 128.02 L564.01 128.53 L566.32 128.94 L568.54 129.29 L570.64 129.57 L572.62 129.80 L574.46 129.99 L576.13 130.15 L577.62 130.30 L578.92 130.45 L580.00 130.60" stroke="#000" stroke-width="1.45" fill="none"/></g><path d="M400.94 160.00V156.57M400.94 23.00V26.43M412.88 160.00V156.57M412.88 23.00V26.43M424.81 160.00V156.57M424.81 23.00V26.43M436.75 160.00V153.01M436.75 23.00V29.99M448.69 160.00V156.57M448.69 23.00V26.43M460.62 160.00V156.57M460.62 23.00V26.43M472.56 160.00V156.57M472.56 23.00V26.43M484.50 160.00V153.01M484.50 23.00V29.99M496.44 160.00V156.57M496.44 23.00V26.43M508.38 160.00V156.57M508.38 23.00V26.43M520.31 160.00V156.57M520.31 23.00V26.43M532.25 160.00V153.01M532.25 23.00V29.99M544.19 160.00V156.57M544.19 23.00V26.43M556.12 160.00V156.57M556.12 23.00V26.43M568.06 160.00V156.57M568.06 23.00V26.43M389.00 153.15H393.77M580.00 153.15H575.23M389.00 146.30H393.77M580.00 146.30H575.23M389.00 139.45H393.77M580.00 139.45H575.23M389.00 132.60H398.74M580.00 132.60H570.26M389.00 125.75H393.77M580.00 125.75H575.23M389.00 118.90H393.77M580.00 118.90H575.23M389.00 112.05H393.77M580.00 112.05H575.23M389.00 105.20H398.74M580.00 105.20H570.26M389.00 98.35H393.77M580.00 98.35H575.23M389.00 91.50H393.77M580.00 91.50H575.23M389.00 84.65H393.77M580.00 84.65H575.23M389.00 77.80H398.74M580.00 77.80H570.26M389.00 70.95H393.77M580.00 70.95H575.23M389.00 64.10H393.77M580.00 64.10H575.23M389.00 57.25H393.77M580.00 57.25H575.23M389.00 50.40H398.74M580.00 50.40H570.26M389.00 43.55H393.77M580.00 43.55H575.23M389.00 36.70H393.77M580.00 36.70H575.23M389.00 29.85H393.77M580.00 29.85H575.23" stroke="#000" stroke-width="1.5" fill="none"/><rect x="389.00" y="23.00" width="191.00" height="137.00" stroke="#000" stroke-width="1.5" stroke-linejoin="round" fill="none"/><text x="382.20" y="165.30" text-anchor="end">0</text><text x="382.20" y="139.60" text-anchor="end">2×10<tspan dy="-7.0" font-size="9.0">9</tspan></text><text x="382.20" y="112.20" text-anchor="end">4×10<tspan dy="-7.0" font-size="9.0">9</tspan></text><text x="382.20" y="84.80" text-anchor="end">6×10<tspan dy="-7.0" font-size="9.0">9</tspan></text><text x="382.20" y="57.40" text-anchor="end">8×10<tspan dy="-7.0" font-size="9.0">9</tspan></text><text x="382.20" y="30.00" text-anchor="end">1×10<tspan dy="-7.0" font-size="9.0">10</tspan></text><text x="389.00" y="178.00" text-anchor="middle">−4×10<tspan dy="-7.0" font-size="9.0">4</tspan></text><text x="436.75" y="178.00" text-anchor="middle">−2×10<tspan dy="-7.0" font-size="9.0">4</tspan></text><text x="484.50" y="178.00" text-anchor="middle">0</text><text x="530.25" y="178.00" text-anchor="middle">2×10<tspan dy="-7.0" font-size="9.0">4</tspan></text><text x="577.80" y="178.00" text-anchor="middle">4×10<tspan dy="-7.0" font-size="9.0">4</tspan></text><text x="483.20" y="192.30" text-anchor="middle">Cometocentric Distance (km)</text><text transform="translate(326.50 88.70) rotate(-90)" x="0" y="0" text-anchor="middle" font-size="14.2">Column Density of C<tspan dy="1.6" font-size="6.5">2</tspan><tspan dy="-1.6"> (cm</tspan><tspan dy="-7.5" font-size="10.5">−2</tspan><tspan dy="7.5">)</tspan></text><text transform="translate(422.00 46.40) scale(1 1.07)" x="0" y="0" font-size="15.3">225<tspan dy="-6.3" font-size="9.5">o</tspan></text><text transform="translate(521.90 46.40) scale(1 1.07)" x="0" y="0" font-size="15.3">45<tspan dy="-6.3" font-size="9.5">o</tspan></text></g><g><g><path d="M160.29 310.25L160.29 305.75M160.29 310.25L156.01 308.85M160.29 310.25L157.65 313.89M160.29 310.25L162.94 313.89M160.29 310.25L164.57 308.85M149.23 313.33L149.23 308.83M149.23 313.33L144.95 311.94M149.23 313.33L146.58 316.97M149.23 313.33L151.87 316.97M149.23 313.33L153.51 311.94M148.56 315.20L148.56 310.70M148.56 315.20L144.28 313.81M148.56 315.20L145.91 318.84M148.56 315.20L151.20 318.84M148.56 315.20L152.84 313.81M161.51 307.06L161.51 302.56M161.51 307.06L157.23 305.67M161.51 307.06L158.87 310.70M161.51 307.06L164.16 310.70M161.51 307.06L165.79 305.67M155.92 308.21L155.92 303.71M155.92 308.21L151.64 306.82M155.92 308.21L153.28 311.85M155.92 308.21L158.57 311.85M155.92 308.21L160.20 306.82M133.63 320.23L133.63 315.73M133.63 320.23L129.35 318.83M133.63 320.23L130.99 323.87M133.63 320.23L136.28 323.87M133.63 320.23L137.91 318.83M160.44 306.72L160.44 302.22M160.44 306.72L156.17 305.32M160.44 306.72L157.80 310.36M160.44 306.72L163.09 310.36M160.44 306.72L164.72 305.32M152.55 309.69L152.55 305.19M152.55 309.69L148.27 308.30M152.55 309.69L149.90 313.33M152.55 309.69L155.19 313.33M152.55 309.69L156.83 308.30M129.73 322.21L129.73 317.71M129.73 322.21L125.45 320.82M129.73 322.21L127.08 325.85M129.73 322.21L132.37 325.85M129.73 322.21L134.01 320.82M203.80 314.22L203.80 309.72M203.80 314.22L199.52 312.83M203.80 314.22L201.15 317.86M203.80 314.22L206.44 317.86M203.80 314.22L208.08 312.83M187.31 305.69L187.31 301.19M187.31 305.69L183.03 304.30M187.31 305.69L184.67 309.33M187.31 305.69L189.96 309.33M187.31 305.69L191.59 304.30M196.89 310.40L196.89 305.90M196.89 310.40L192.61 309.01M196.89 310.40L194.24 314.04M196.89 310.40L199.53 314.04M196.89 310.40L201.16 309.01M190.30 307.46L190.30 302.96M190.30 307.46L186.02 306.07M190.30 307.46L187.66 311.10M190.30 307.46L192.95 311.10M190.30 307.46L194.58 306.07M211.46 320.83L211.46 316.33M211.46 320.83L207.18 319.44M211.46 320.83L208.81 324.47M211.46 320.83L214.10 324.47M211.46 320.83L215.74 319.44M222.98 321.54L222.98 317.04M222.98 321.54L218.70 320.15M222.98 321.54L220.33 325.18M222.98 321.54L225.62 325.18M222.98 321.54L227.26 320.15M201.49 315.22L201.49 310.72M201.49 315.22L197.21 313.83M201.49 315.22L198.84 318.86M201.49 315.22L204.13 318.86M201.49 315.22L205.77 313.83M199.12 313.11L199.12 308.61M199.12 313.11L194.84 311.72M199.12 313.11L196.47 316.75M199.12 313.11L201.76 316.75M199.12 313.11L203.40 311.72M178.97 299.75L178.97 295.25M178.97 299.75L174.69 298.36M178.97 299.75L176.33 303.39M178.97 299.75L181.62 303.39M178.97 299.75L183.25 298.36M236.93 323.32L236.93 318.82M236.93 323.32L232.65 321.93M236.93 323.32L234.29 326.96M236.93 323.32L239.58 326.96M236.93 323.32L241.21 321.93M207.22 318.04L207.22 313.54M207.22 318.04L202.94 316.64M207.22 318.04L204.57 321.68M207.22 318.04L209.86 321.68M207.22 318.04L211.50 316.64M230.22 322.42L230.22 317.92M230.22 322.42L225.94 321.03M230.22 322.42L227.58 326.07M230.22 322.42L232.87 326.07M230.22 322.42L234.50 321.03M192.35 308.51L192.35 304.01M192.35 308.51L188.07 307.12M192.35 308.51L189.70 312.15M192.35 308.51L194.99 312.15M192.35 308.51L196.63 307.12M200.58 314.46L200.58 309.96M200.58 314.46L196.30 313.07M200.58 314.46L197.94 318.10M200.58 314.46L203.23 318.10M200.58 314.46L204.86 313.07M171.30 263.20L171.30 257.40M171.30 263.20L165.78 261.41M171.30 263.20L167.89 267.89M171.30 263.20L174.71 267.89M171.30 263.20L176.82 261.41" stroke="#8a8a8a" stroke-width="1.3" fill="none"/><g stroke="#000" stroke-width="1.5" fill="none"><path d="M128.22 319.76L133.52 325.06L128.22 330.36L122.92 325.06Z" fill="none"/><path d="M128.56 320.57L133.86 325.87L128.56 331.17L123.26 325.87Z" fill="none"/><path d="M129.89 321.20L135.19 326.50L129.89 331.80L124.59 326.50Z" fill="none"/><path d="M130.75 318.50L136.05 323.80L130.75 329.10L125.45 323.80Z" fill="none"/><path d="M132.59 319.06L137.89 324.36L132.59 329.66L127.29 324.36Z" fill="none"/><path d="M133.50 319.96L138.80 325.26L133.50 330.56L128.20 325.26Z" fill="none"/><path d="M134.51 316.59L139.81 321.89L134.51 327.19L129.21 321.89Z" fill="none"/><path d="M135.86 317.52L141.16 322.82L135.86 328.12L130.56 322.82Z" fill="none"/><path d="M137.05 317.88L142.35 323.18L137.05 328.48L131.75 323.18Z" fill="none"/><path d="M138.63 314.86L143.93 320.16L138.63 325.46L133.33 320.16Z" fill="none"/><path d="M140.23 315.95L145.53 321.25L140.23 326.55L134.93 321.25Z" fill="none"/><path d="M141.69 317.05L146.99 322.35L141.69 327.65L136.39 322.35Z" fill="none"/><path d="M142.89 313.89L148.19 319.19L142.89 324.49L137.59 319.19Z" fill="none"/><path d="M143.74 314.25L149.04 319.55L143.74 324.85L138.44 319.55Z" fill="none"/><path d="M145.73 314.95L151.03 320.25L145.73 325.55L140.43 320.25Z" fill="none"/><path d="M146.66 311.74L151.96 317.04L146.66 322.34L141.36 317.04Z" fill="none"/><path d="M147.05 313.88L152.35 319.18L147.05 324.48L141.75 319.18Z" fill="none"/><path d="M149.36 314.75L154.66 320.05L149.36 325.35L144.06 320.05Z" fill="none"/><path d="M150.42 310.26L155.72 315.56L150.42 320.86L145.12 315.56Z" fill="none"/><path d="M150.92 311.48L156.22 316.78L150.92 322.08L145.62 316.78Z" fill="none"/><path d="M152.63 312.96L157.93 318.26L152.63 323.56L147.33 318.26Z" fill="none"/><path d="M154.26 307.94L159.56 313.24L154.26 318.54L148.96 313.24Z" fill="none"/><path d="M155.23 309.26L160.53 314.56L155.23 319.86L149.93 314.56Z" fill="none"/><path d="M156.60 309.78L161.90 315.08L156.60 320.38L151.30 315.08Z" fill="none"/><path d="M157.29 304.86L162.59 310.16L157.29 315.46L151.99 310.16Z" fill="none"/><path d="M158.42 306.42L163.72 311.72L158.42 317.02L153.12 311.72Z" fill="none"/><path d="M159.63 308.00L164.93 313.30L159.63 318.60L154.33 313.30Z" fill="none"/><path d="M161.45 302.80L166.75 308.10L161.45 313.40L156.15 308.10Z" fill="none"/><path d="M162.78 303.24L168.08 308.54L162.78 313.84L157.48 308.54Z" fill="none"/><path d="M163.86 302.79L169.16 308.09L163.86 313.39L158.56 308.09Z" fill="none"/><path d="M165.50 298.62L170.80 303.92L165.50 309.22L160.20 303.92Z" fill="none"/><path d="M166.38 299.26L171.68 304.56L166.38 309.86L161.08 304.56Z" fill="none"/><path d="M167.82 298.83L173.12 304.13L167.82 309.43L162.52 304.13Z" fill="none"/><path d="M169.17 293.27L174.47 298.57L169.17 303.87L163.87 298.57Z" fill="none"/><path d="M169.59 295.11L174.89 300.41L169.59 305.71L164.29 300.41Z" fill="none"/><path d="M171.66 295.62L176.96 300.92L171.66 306.22L166.36 300.92Z" fill="none"/><path d="M175.84 294.38L181.14 299.68L175.84 304.98L170.54 299.68Z" fill="none"/><path d="M177.10 297.12L182.40 302.42L177.10 307.72L171.80 302.42Z" fill="none"/><path d="M178.16 300.58L183.46 305.88L178.16 311.18L172.86 305.88Z" fill="none"/><path d="M179.35 296.83L184.65 302.13L179.35 307.43L174.05 302.13Z" fill="none"/><path d="M181.14 300.98L186.44 306.28L181.14 311.58L175.84 306.28Z" fill="none"/><path d="M182.50 304.64L187.80 309.94L182.50 315.24L177.20 309.94Z" fill="none"/><path d="M182.55 301.64L187.85 306.94L182.55 312.24L177.25 306.94Z" fill="none"/><path d="M184.81 304.88L190.11 310.18L184.81 315.48L179.51 310.18Z" fill="none"/><path d="M185.60 305.59L190.90 310.89L185.60 316.19L180.30 310.89Z" fill="none"/><path d="M186.56 304.04L191.86 309.34L186.56 314.64L181.26 309.34Z" fill="none"/><path d="M187.81 305.32L193.11 310.62L187.81 315.92L182.51 310.62Z" fill="none"/><path d="M188.98 307.03L194.28 312.33L188.98 317.63L183.68 312.33Z" fill="none"/><path d="M191.25 304.56L196.55 309.86L191.25 315.16L185.95 309.86Z" fill="none"/><path d="M192.34 306.91L197.64 312.21L192.34 317.51L187.04 312.21Z" fill="none"/><path d="M193.68 308.91L198.98 314.21L193.68 319.51L188.38 314.21Z" fill="none"/><path d="M194.11 306.96L199.41 312.26L194.11 317.56L188.81 312.26Z" fill="none"/><path d="M195.69 307.95L200.99 313.25L195.69 318.55L190.39 313.25Z" fill="none"/><path d="M196.34 309.89L201.64 315.19L196.34 320.49L191.04 315.19Z" fill="none"/><path d="M198.15 308.78L203.45 314.08L198.15 319.38L192.85 314.08Z" fill="none"/><path d="M199.02 310.32L204.32 315.62L199.02 320.92L193.72 315.62Z" fill="none"/><path d="M200.49 312.45L205.79 317.75L200.49 323.05L195.19 317.75Z" fill="none"/><path d="M201.36 310.92L206.66 316.22L201.36 321.52L196.06 316.22Z" fill="none"/><path d="M203.66 312.17L208.96 317.47L203.66 322.77L198.36 317.47Z" fill="none"/><path d="M205.03 314.15L210.33 319.45L205.03 324.75L199.73 319.45Z" fill="none"/><path d="M206.25 312.46L211.55 317.76L206.25 323.06L200.95 317.76Z" fill="none"/><path d="M206.84 313.69L212.14 318.99L206.84 324.29L201.54 318.99Z" fill="none"/><path d="M208.88 315.58L214.18 320.88L208.88 326.18L203.58 320.88Z" fill="none"/><path d="M209.34 313.82L214.64 319.12L209.34 324.42L204.04 319.12Z" fill="none"/><path d="M210.48 314.80L215.78 320.10L210.48 325.40L205.18 320.10Z" fill="none"/><path d="M211.52 316.85L216.82 322.15L211.52 327.45L206.22 322.15Z" fill="none"/><path d="M213.01 315.48L218.31 320.78L213.01 326.08L207.71 320.78Z" fill="none"/><path d="M214.21 316.21L219.51 321.51L214.21 326.81L208.91 321.51Z" fill="none"/><path d="M215.80 317.79L221.10 323.09L215.80 328.39L210.50 323.09Z" fill="none"/><path d="M216.88 316.70L222.18 322.00L216.88 327.30L211.58 322.00Z" fill="none"/><path d="M218.78 318.39L224.08 323.69L218.78 328.99L213.48 323.69Z" fill="none"/><path d="M219.71 320.17L225.01 325.47L219.71 330.77L214.41 325.47Z" fill="none"/><path d="M221.36 317.52L226.66 322.82L221.36 328.12L216.06 322.82Z" fill="none"/><path d="M222.33 318.52L227.63 323.82L222.33 329.12L217.03 323.82Z" fill="none"/><path d="M223.61 321.02L228.91 326.32L223.61 331.62L218.31 326.32Z" fill="none"/><path d="M224.89 318.68L230.19 323.98L224.89 329.28L219.59 323.98Z" fill="none"/><path d="M225.56 319.51L230.86 324.81L225.56 330.11L220.26 324.81Z" fill="none"/><path d="M227.61 321.97L232.91 327.27L227.61 332.57L222.31 327.27Z" fill="none"/><path d="M228.30 319.15L233.60 324.45L228.30 329.75L223.00 324.45Z" fill="none"/><path d="M229.33 321.90L234.63 327.20L229.33 332.50L224.03 327.20Z" fill="none"/><path d="M231.44 322.85L236.74 328.15L231.44 333.45L226.14 328.15Z" fill="none"/><path d="M232.29 319.89L237.59 325.19L232.29 330.49L226.99 325.19Z" fill="none"/><path d="M233.42 321.45L238.72 326.75L233.42 332.05L228.12 326.75Z" fill="none"/><path d="M234.19 322.31L239.49 327.61L234.19 332.91L228.89 327.61Z" fill="none"/><path d="M235.50 320.95L240.80 326.25L235.50 331.55L230.20 326.25Z" fill="none"/><path d="M237.11 321.26L242.41 326.56L237.11 331.86L231.81 326.56Z" fill="none"/><path d="M238.88 322.00L244.18 327.30L238.88 332.60L233.58 327.30Z" fill="none"/><path d="M170.40 267.00L175.70 272.30L170.40 277.60L165.10 272.30Z" fill="none"/><path d="M173.00 284.70L178.30 290.00L173.00 295.30L167.70 290.00Z" fill="none"/><path d="M179.00 294.70L184.30 300.00L179.00 305.30L173.70 300.00Z" fill="none"/></g><path d="M77.70 338.70 L79.91 338.40 L82.77 338.06 L86.16 337.67 L89.97 337.23 L94.10 336.75 L98.41 336.22 L102.81 335.65 L107.17 335.02 L111.38 334.35 L115.34 333.62 L118.91 332.84 L122.00 332.00 L124.69 331.09 L127.16 330.08 L129.44 328.99 L131.54 327.84 L133.50 326.63 L135.33 325.39 L137.06 324.13 L138.71 322.86 L140.31 321.60 L141.88 320.36 L143.43 319.15 L145.00 318.00 L146.55 316.89 L148.05 315.81 L149.49 314.75 L150.88 313.71 L152.21 312.67 L153.48 311.64 L154.70 310.59 L155.87 309.53 L156.98 308.45 L158.04 307.34 L159.05 306.19 L160.00 305.00 L160.90 303.74 L161.73 302.42 L162.50 301.04 L163.21 299.63 L163.87 298.19 L164.48 296.74 L165.05 295.31 L165.57 293.90 L166.05 292.52 L166.50 291.21 L166.91 289.96 L167.30 288.80 L167.64 287.69 L167.93 286.60 L168.16 285.53 L168.34 284.49 L168.49 283.49 L168.61 282.54 L168.70 281.64 L168.77 280.81 L168.83 280.05 L168.88 279.38 L168.94 278.79 L169.00 278.30" stroke="#000" stroke-width="1.45" fill="none"/><path d="M172.50 281.80 L172.73 282.21 L172.95 282.68 L173.17 283.20 L173.41 283.78 L173.70 284.42 L174.04 285.14 L174.46 285.93 L174.97 286.80 L175.60 287.76 L176.35 288.81 L177.24 289.95 L178.30 291.20 L179.49 292.60 L180.76 294.19 L182.13 295.93 L183.60 297.79 L185.18 299.73 L186.88 301.73 L188.70 303.75 L190.66 305.76 L192.76 307.72 L195.01 309.60 L197.42 311.37 L200.00 313.00 L202.86 314.54 L206.08 316.06 L209.58 317.55 L213.30 319.01 L217.15 320.42 L221.08 321.78 L225.01 323.08 L228.87 324.30 L232.59 325.44 L236.10 326.50 L239.33 327.45 L242.20 328.30 L244.81 329.03 L247.29 329.63 L249.64 330.13 L251.84 330.53 L253.91 330.85 L255.84 331.11 L257.62 331.31 L259.24 331.47 L260.72 331.61 L262.04 331.73 L263.20 331.86 L264.20 332.00" stroke="#000" stroke-width="1.45" fill="none"/></g><path d="M89.36 358.50V355.26M89.36 229.00V232.24M101.01 358.50V355.26M101.01 229.00V232.24M112.67 358.50V355.26M112.67 229.00V232.24M124.33 358.50V351.90M124.33 229.00V235.60M135.98 358.50V355.26M135.98 229.00V232.24M147.64 358.50V355.26M147.64 229.00V232.24M159.29 358.50V355.26M159.29 229.00V232.24M170.95 358.50V351.90M170.95 229.00V235.60M182.61 358.50V355.26M182.61 229.00V232.24M194.26 358.50V355.26M194.26 229.00V232.24M205.92 358.50V355.26M205.92 229.00V232.24M217.57 358.50V351.90M217.57 229.00V235.60M229.23 358.50V355.26M229.23 229.00V232.24M240.89 358.50V355.26M240.89 229.00V232.24M252.54 358.50V355.26M252.54 229.00V232.24M77.70 352.02H82.36M264.20 352.02H259.54M77.70 345.55H82.36M264.20 345.55H259.54M77.70 339.07H82.36M264.20 339.07H259.54M77.70 332.60H87.21M264.20 332.60H254.69M77.70 326.12H82.36M264.20 326.12H259.54M77.70 319.65H82.36M264.20 319.65H259.54M77.70 313.18H82.36M264.20 313.18H259.54M77.70 306.70H87.21M264.20 306.70H254.69M77.70 300.23H82.36M264.20 300.23H259.54M77.70 293.75H82.36M264.20 293.75H259.54M77.70 287.27H82.36M264.20 287.27H259.54M77.70 280.80H87.21M264.20 280.80H254.69M77.70 274.32H82.36M264.20 274.32H259.54M77.70 267.85H82.36M264.20 267.85H259.54M77.70 261.38H82.36M264.20 261.38H259.54M77.70 254.90H87.21M264.20 254.90H254.69M77.70 248.43H82.36M264.20 248.43H259.54M77.70 241.95H82.36M264.20 241.95H259.54M77.70 235.48H82.36M264.20 235.48H259.54" stroke="#000" stroke-width="1.5" fill="none"/><rect x="77.70" y="229.00" width="186.50" height="129.50" stroke="#000" stroke-width="1.5" stroke-linejoin="round" fill="none"/><text x="70.90" y="363.80" text-anchor="end">0</text><text x="70.90" y="339.60" text-anchor="end">2×10<tspan dy="-7.0" font-size="9.0">9</tspan></text><text x="70.90" y="313.70" text-anchor="end">4×10<tspan dy="-7.0" font-size="9.0">9</tspan></text><text x="70.90" y="287.80" text-anchor="end">6×10<tspan dy="-7.0" font-size="9.0">9</tspan></text><text x="70.90" y="261.90" text-anchor="end">8×10<tspan dy="-7.0" font-size="9.0">9</tspan></text><text x="70.90" y="236.00" text-anchor="end">1×10<tspan dy="-7.0" font-size="9.0">10</tspan></text><text x="77.70" y="375.80" text-anchor="middle">−4×10<tspan dy="-7.0" font-size="9.0">4</tspan></text><text x="124.33" y="375.80" text-anchor="middle">−2×10<tspan dy="-7.0" font-size="9.0">4</tspan></text><text x="170.95" y="375.80" text-anchor="middle">0</text><text x="215.57" y="375.80" text-anchor="middle">2×10<tspan dy="-7.0" font-size="9.0">4</tspan></text><text x="262.00" y="375.80" text-anchor="middle">4×10<tspan dy="-7.0" font-size="9.0">4</tspan></text><text x="169.65" y="390.10" text-anchor="middle">Cometocentric Distance (km)</text><text transform="translate(15.20 292.25) rotate(-90)" x="0" y="0" text-anchor="middle" font-size="14.2">Column Density of C<tspan dy="1.6" font-size="6.5">2</tspan><tspan dy="-1.6"> (cm</tspan><tspan dy="-7.5" font-size="10.5">−2</tspan><tspan dy="7.5">)</tspan></text><text transform="translate(112.90 253.00) scale(1 1.07)" x="0" y="0" font-size="15.3">70<tspan dy="-6.3" font-size="9.5">o</tspan></text><text transform="translate(203.50 253.00) scale(1 1.07)" x="0" y="0" font-size="15.3">250<tspan dy="-6.3" font-size="9.5">o</tspan></text></g><g><g><path d="M470.70 316.78L470.70 312.28M470.70 316.78L466.42 315.39M470.70 316.78L468.05 320.42M470.70 316.78L473.34 320.42M470.70 316.78L474.98 315.39M451.75 321.79L451.75 317.29M451.75 321.79L447.47 320.40M451.75 321.79L449.11 325.44M451.75 321.79L454.40 325.44M451.75 321.79L456.03 320.40M456.54 321.33L456.54 316.83M456.54 321.33L452.26 319.94M456.54 321.33L453.89 324.98M456.54 321.33L459.18 324.98M456.54 321.33L460.82 319.94M471.35 312.82L471.35 308.32M471.35 312.82L467.07 311.42M471.35 312.82L468.71 316.46M471.35 312.82L474.00 316.46M471.35 312.82L475.63 311.42M476.27 313.06L476.27 308.56M476.27 313.06L471.99 311.67M476.27 313.06L473.63 316.70M476.27 313.06L478.92 316.70M476.27 313.06L480.55 311.67M463.71 316.67L463.71 312.17M463.71 316.67L459.43 315.28M463.71 316.67L461.06 320.31M463.71 316.67L466.35 320.31M463.71 316.67L467.99 315.28M483.70 303.97L483.70 299.47M483.70 303.97L479.42 302.58M483.70 303.97L481.06 307.61M483.70 303.97L486.35 307.61M483.70 303.97L487.98 302.58M477.26 310.02L477.26 305.52M477.26 310.02L472.98 308.63M477.26 310.02L474.62 313.66M477.26 310.02L479.91 313.66M477.26 310.02L481.54 308.63M451.52 325.54L451.52 321.04M451.52 325.54L447.24 324.15M451.52 325.54L448.88 329.18M451.52 325.54L454.17 329.18M451.52 325.54L455.80 324.15M540.17 316.76L540.17 312.26M540.17 316.76L535.89 315.37M540.17 316.76L537.52 320.40M540.17 316.76L542.81 320.40M540.17 316.76L544.45 315.37M541.48 317.46L541.48 312.96M541.48 317.46L537.20 316.07M541.48 317.46L538.83 321.10M541.48 317.46L544.12 321.10M541.48 317.46L545.76 316.07M527.47 312.31L527.47 307.81M527.47 312.31L523.19 310.92M527.47 312.31L524.83 315.95M527.47 312.31L530.12 315.95M527.47 312.31L531.75 310.92M508.77 308.15L508.77 303.65M508.77 308.15L504.49 306.75M508.77 308.15L506.13 311.79M508.77 308.15L511.42 311.79M508.77 308.15L513.05 306.75M538.85 313.16L538.85 308.66M538.85 313.16L534.57 311.77M538.85 313.16L536.20 316.80M538.85 313.16L541.49 316.80M538.85 313.16L543.13 311.77M500.83 304.22L500.83 299.72M500.83 304.22L496.55 302.83M500.83 304.22L498.18 307.86M500.83 304.22L503.47 307.86M500.83 304.22L505.11 302.83M504.07 303.77L504.07 299.27M504.07 303.77L499.80 302.38M504.07 303.77L501.43 307.41M504.07 303.77L506.72 307.41M504.07 303.77L508.35 302.38M490.20 296.88L490.20 292.38M490.20 296.88L485.92 295.49M490.20 296.88L487.56 300.52M490.20 296.88L492.85 300.52M490.20 296.88L494.48 295.49M509.17 311.46L509.17 306.96M509.17 311.46L504.89 310.06M509.17 311.46L506.53 315.10M509.17 311.46L511.82 315.10M509.17 311.46L513.45 310.06M545.43 320.05L545.43 315.55M545.43 320.05L541.15 318.66M545.43 320.05L542.78 323.69M545.43 320.05L548.07 323.69M545.43 320.05L549.71 318.66M505.22 304.84L505.22 300.34M505.22 304.84L500.94 303.45M505.22 304.84L502.57 308.48M505.22 304.84L507.86 308.48M505.22 304.84L509.50 303.45M494.27 298.92L494.27 294.42M494.27 298.92L489.99 297.53M494.27 298.92L491.62 302.57M494.27 298.92L496.91 302.57M494.27 298.92L498.55 297.53M534.14 314.06L534.14 309.56M534.14 314.06L529.86 312.67M534.14 314.06L531.49 317.70M534.14 314.06L536.78 317.70M534.14 314.06L538.41 312.67M503.22 304.75L503.22 300.25M503.22 304.75L498.94 303.36M503.22 304.75L500.58 308.39M503.22 304.75L505.87 308.39M503.22 304.75L507.50 303.36M528.32 314.15L528.32 309.65M528.32 314.15L524.04 312.76M528.32 314.15L525.67 317.79M528.32 314.15L530.97 317.79M528.32 314.15L532.60 312.76M536.62 316.56L536.62 312.06M536.62 316.56L532.34 315.17M536.62 316.56L533.97 320.20M536.62 316.56L539.26 320.20M536.62 316.56L540.90 315.17M531.19 311.84L531.19 307.34M531.19 311.84L526.91 310.45M531.19 311.84L528.54 315.48M531.19 311.84L533.83 315.48M531.19 311.84L535.47 310.45M542.66 315.53L542.66 311.03M542.66 315.53L538.38 314.14M542.66 315.53L540.01 319.17M542.66 315.53L545.30 319.17M542.66 315.53L546.94 314.14M524.85 312.20L524.85 307.70M524.85 312.20L520.57 310.80M524.85 312.20L522.20 315.84M524.85 312.20L527.49 315.84M524.85 312.20L529.13 310.80M488.90 279.00L488.90 273.20M488.90 279.00L483.38 277.21M488.90 279.00L485.49 283.69M488.90 279.00L492.31 283.69M488.90 279.00L494.42 277.21M487.20 307.60L487.20 301.80M487.20 307.60L481.68 305.81M487.20 307.60L483.79 312.29M487.20 307.60L490.61 312.29M487.20 307.60L492.72 305.81M540.80 328.30L540.80 322.50M540.80 328.30L535.28 326.51M540.80 328.30L537.39 332.99M540.80 328.30L544.21 332.99M540.80 328.30L546.32 326.51M553.30 321.70L553.30 315.90M553.30 321.70L547.78 319.91M553.30 321.70L549.89 326.39M553.30 321.70L556.71 326.39M553.30 321.70L558.82 319.91" stroke="#8a8a8a" stroke-width="1.3" fill="none"/><g stroke="#000" stroke-width="1.5" fill="none"><path d="M443.37 325.15L448.67 330.45L443.37 335.75L438.07 330.45Z" fill="none"/><path d="M444.68 324.85L449.98 330.15L444.68 335.45L439.38 330.15Z" fill="none"/><path d="M444.91 327.25L450.21 332.55L444.91 337.85L439.61 332.55Z" fill="none"/><path d="M447.58 322.52L452.88 327.82L447.58 333.12L442.28 327.82Z" fill="none"/><path d="M448.57 323.03L453.87 328.33L448.57 333.63L443.27 328.33Z" fill="none"/><path d="M449.73 326.60L455.03 331.90L449.73 337.20L444.43 331.90Z" fill="none"/><path d="M451.78 321.11L457.08 326.41L451.78 331.71L446.48 326.41Z" fill="none"/><path d="M453.43 321.05L458.73 326.35L453.43 331.65L448.13 326.35Z" fill="none"/><path d="M453.62 322.80L458.92 328.10L453.62 333.40L448.32 328.10Z" fill="none"/><path d="M455.65 318.74L460.95 324.04L455.65 329.34L450.35 324.04Z" fill="none"/><path d="M457.68 319.80L462.98 325.10L457.68 330.40L452.38 325.10Z" fill="none"/><path d="M458.69 321.38L463.99 326.68L458.69 331.98L453.39 326.68Z" fill="none"/><path d="M459.86 316.38L465.16 321.68L459.86 326.98L454.56 321.68Z" fill="none"/><path d="M460.69 318.42L465.99 323.72L460.69 329.02L455.39 323.72Z" fill="none"/><path d="M462.40 319.84L467.70 325.14L462.40 330.44L457.10 325.14Z" fill="none"/><path d="M464.43 313.59L469.73 318.89L464.43 324.19L459.13 318.89Z" fill="none"/><path d="M465.12 315.14L470.42 320.44L465.12 325.74L459.82 320.44Z" fill="none"/><path d="M467.28 316.55L472.58 321.85L467.28 327.15L461.98 321.85Z" fill="none"/><path d="M467.96 311.35L473.26 316.65L467.96 321.95L462.66 316.65Z" fill="none"/><path d="M469.99 312.85L475.29 318.15L469.99 323.45L464.69 318.15Z" fill="none"/><path d="M471.22 313.11L476.52 318.41L471.22 323.71L465.92 318.41Z" fill="none"/><path d="M472.96 308.73L478.26 314.03L472.96 319.33L467.66 314.03Z" fill="none"/><path d="M473.97 310.27L479.27 315.57L473.97 320.87L468.67 315.57Z" fill="none"/><path d="M476.34 310.32L481.64 315.62L476.34 320.92L471.04 315.62Z" fill="none"/><path d="M477.67 306.92L482.97 312.22L477.67 317.52L472.37 312.22Z" fill="none"/><path d="M478.17 307.51L483.47 312.81L478.17 318.11L472.87 312.81Z" fill="none"/><path d="M480.64 307.16L485.94 312.46L480.64 317.76L475.34 312.46Z" fill="none"/><path d="M481.14 303.66L486.44 308.96L481.14 314.26L475.84 308.96Z" fill="none"/><path d="M482.85 303.36L488.15 308.66L482.85 313.96L477.55 308.66Z" fill="none"/><path d="M484.17 302.71L489.47 308.01L484.17 313.31L478.87 308.01Z" fill="none"/><path d="M488.46 291.74L493.76 297.04L488.46 302.34L483.16 297.04Z" fill="none"/><path d="M490.31 293.08L495.61 298.38L490.31 303.68L485.01 298.38Z" fill="none"/><path d="M491.44 295.05L496.74 300.35L491.44 305.65L486.14 300.35Z" fill="none"/><path d="M493.67 294.86L498.97 300.16L493.67 305.46L488.37 300.16Z" fill="none"/><path d="M494.42 295.82L499.72 301.12L494.42 306.42L489.12 301.12Z" fill="none"/><path d="M496.07 298.73L501.37 304.03L496.07 309.33L490.77 304.03Z" fill="none"/><path d="M497.51 296.04L502.81 301.34L497.51 306.64L492.21 301.34Z" fill="none"/><path d="M498.93 298.60L504.23 303.90L498.93 309.20L493.63 303.90Z" fill="none"/><path d="M501.77 302.21L507.07 307.51L501.77 312.81L496.47 307.51Z" fill="none"/><path d="M503.06 301.15L508.36 306.45L503.06 311.75L497.76 306.45Z" fill="none"/><path d="M504.92 302.85L510.22 308.15L504.92 313.45L499.62 308.15Z" fill="none"/><path d="M505.31 304.17L510.61 309.47L505.31 314.77L500.01 309.47Z" fill="none"/><path d="M507.73 303.49L513.03 308.79L507.73 314.09L502.43 308.79Z" fill="none"/><path d="M509.15 305.16L514.45 310.46L509.15 315.76L503.85 310.46Z" fill="none"/><path d="M510.25 306.35L515.55 311.65L510.25 316.95L504.95 311.65Z" fill="none"/><path d="M511.48 305.10L516.78 310.40L511.48 315.70L506.18 310.40Z" fill="none"/><path d="M513.19 306.65L518.49 311.95L513.19 317.25L507.89 311.95Z" fill="none"/><path d="M515.79 308.21L521.09 313.51L515.79 318.81L510.49 313.51Z" fill="none"/><path d="M517.35 306.89L522.65 312.19L517.35 317.49L512.05 312.19Z" fill="none"/><path d="M517.96 308.69L523.26 313.99L517.96 319.29L512.66 313.99Z" fill="none"/><path d="M520.22 310.13L525.52 315.43L520.22 320.73L514.92 315.43Z" fill="none"/><path d="M520.58 308.01L525.88 313.31L520.58 318.61L515.28 313.31Z" fill="none"/><path d="M522.62 310.09L527.92 315.39L522.62 320.69L517.32 315.39Z" fill="none"/><path d="M523.89 310.94L529.19 316.24L523.89 321.54L518.59 316.24Z" fill="none"/><path d="M526.53 308.29L531.83 313.59L526.53 318.89L521.23 313.59Z" fill="none"/><path d="M527.33 310.96L532.63 316.26L527.33 321.56L522.03 316.26Z" fill="none"/><path d="M529.42 311.77L534.72 317.07L529.42 322.37L524.12 317.07Z" fill="none"/><path d="M529.84 308.78L535.14 314.08L529.84 319.38L524.54 314.08Z" fill="none"/><path d="M532.76 311.45L538.06 316.75L532.76 322.05L527.46 316.75Z" fill="none"/><path d="M534.04 314.83L539.34 320.13L534.04 325.43L528.74 320.13Z" fill="none"/><path d="M534.95 310.21L540.25 315.51L534.95 320.81L529.65 315.51Z" fill="none"/><path d="M537.46 313.53L542.76 318.83L537.46 324.13L532.16 318.83Z" fill="none"/><path d="M537.93 315.98L543.23 321.28L537.93 326.58L532.63 321.28Z" fill="none"/><path d="M539.56 311.22L544.86 316.52L539.56 321.82L534.26 316.52Z" fill="none"/><path d="M540.62 314.82L545.92 320.12L540.62 325.42L535.32 320.12Z" fill="none"/><path d="M543.58 317.58L548.88 322.88L543.58 328.18L538.28 322.88Z" fill="none"/><path d="M545.17 312.79L550.47 318.09L545.17 323.39L539.87 318.09Z" fill="none"/><path d="M545.62 315.61L550.92 320.91L545.62 326.21L540.32 320.91Z" fill="none"/><path d="M548.29 317.37L553.59 322.67L548.29 327.97L542.99 322.67Z" fill="none"/><path d="M548.96 314.02L554.26 319.32L548.96 324.62L543.66 319.32Z" fill="none"/><path d="M550.57 315.42L555.87 320.72L550.57 326.02L545.27 320.72Z" fill="none"/><path d="M552.89 315.88L558.19 321.18L552.89 326.48L547.59 321.18Z" fill="none"/><path d="M485.20 273.20L490.50 278.50L485.20 283.80L479.90 278.50Z" fill="none"/><path d="M481.85 355.45L487.15 360.75L481.85 366.05L476.55 360.75Z" fill="none"/><path d="M514.20 289.70L519.50 295.00L514.20 300.30L508.90 295.00Z" fill="none"/><path d="M535.00 295.50L540.30 300.80L535.00 306.10L529.70 300.80Z" fill="none"/><path d="M516.70 318.00L522.00 323.30L516.70 328.60L511.40 323.30Z" fill="none"/><path d="M523.00 319.20L528.30 324.50L523.00 329.80L517.70 324.50Z" fill="none"/><path d="M532.00 309.70L537.30 315.00L532.00 320.30L526.70 315.00Z" fill="none"/><path d="M485.00 311.40L490.30 316.70L485.00 322.00L479.70 316.70Z" fill="none"/><path d="M468.50 320.95L473.80 326.25L468.50 331.55L463.20 326.25Z" fill="none"/><path d="M447.50 316.90L452.80 322.20L447.50 327.50L442.20 322.20Z" fill="none"/></g><path d="M391.80 342.00 L394.21 341.60 L397.34 341.11 L401.08 340.54 L405.27 339.91 L409.80 339.21 L414.54 338.47 L419.34 337.68 L424.08 336.87 L428.63 336.04 L432.85 335.19 L436.62 334.34 L439.80 333.50 L442.48 332.65 L444.85 331.75 L446.95 330.82 L448.82 329.87 L450.50 328.90 L452.03 327.91 L453.43 326.91 L454.76 325.91 L456.04 324.91 L457.31 323.92 L458.62 322.95 L460.00 322.00 L461.41 321.06 L462.77 320.11 L464.09 319.16 L465.37 318.21 L466.61 317.26 L467.81 316.32 L468.96 315.39 L470.06 314.48 L471.12 313.58 L472.13 312.69 L473.09 311.83 L474.00 311.00 L474.86 310.23 L475.65 309.54 L476.39 308.92 L477.07 308.34 L477.71 307.77 L478.31 307.19 L478.87 306.59 L479.40 305.93 L479.91 305.19 L480.39 304.36 L480.85 303.40 L481.30 302.30 L481.72 301.01 L482.10 299.55 L482.43 297.94 L482.73 296.21 L483.01 294.41 L483.26 292.57 L483.50 290.72 L483.73 288.90 L483.96 287.14 L484.20 285.48 L484.44 283.96 L484.70 282.60 L484.98 281.36 L485.27 280.18 L485.57 279.06 L485.87 278.00 L486.17 277.00 L486.46 276.07 L486.74 275.20 L487.01 274.41 L487.25 273.69 L487.47 273.05 L487.65 272.48 L487.80 272.00" stroke="#000" stroke-width="1.45" fill="none"/><path d="M487.80 272.00 L487.94 272.42 L488.10 272.93 L488.30 273.53 L488.53 274.21 L488.77 274.94 L489.02 275.73 L489.29 276.54 L489.56 277.38 L489.83 278.23 L490.10 279.07 L490.36 279.90 L490.60 280.70 L490.76 281.44 L490.79 282.13 L490.74 282.77 L490.65 283.41 L490.56 284.05 L490.51 284.73 L490.55 285.45 L490.70 286.26 L491.03 287.16 L491.56 288.19 L492.33 289.36 L493.40 290.70 L494.76 292.27 L496.36 294.09 L498.18 296.10 L500.19 298.27 L502.37 300.54 L504.69 302.85 L507.12 305.16 L509.63 307.43 L512.20 309.60 L514.81 311.61 L517.41 313.43 L520.00 315.00 L522.65 316.35 L525.46 317.56 L528.39 318.64 L531.41 319.61 L534.48 320.47 L537.59 321.26 L540.69 321.97 L543.75 322.63 L546.74 323.24 L549.64 323.83 L552.40 324.42 L555.00 325.00 L557.52 325.57 L560.06 326.08 L562.58 326.56 L565.06 326.99 L567.47 327.37 L569.79 327.73 L571.98 328.04 L574.03 328.33 L575.90 328.58 L577.57 328.81 L579.01 329.02 L580.20 329.20" stroke="#000" stroke-width="1.45" fill="none"/></g><path d="M403.57 360.50V357.19M403.57 228.20V231.51M415.35 360.50V357.19M415.35 228.20V231.51M427.12 360.50V357.19M427.12 228.20V231.51M438.90 360.50V353.75M438.90 228.20V234.95M450.68 360.50V357.19M450.68 228.20V231.51M462.45 360.50V357.19M462.45 228.20V231.51M474.23 360.50V357.19M474.23 228.20V231.51M486.00 360.50V353.75M486.00 228.20V234.95M497.78 360.50V357.19M497.78 228.20V231.51M509.55 360.50V357.19M509.55 228.20V231.51M521.33 360.50V357.19M521.33 228.20V231.51M533.10 360.50V353.75M533.10 228.20V234.95M544.88 360.50V357.19M544.88 228.20V231.51M556.65 360.50V357.19M556.65 228.20V231.51M568.43 360.50V357.19M568.43 228.20V231.51M391.80 353.88H396.51M580.20 353.88H575.49M391.80 347.27H396.51M580.20 347.27H575.49M391.80 340.65H396.51M580.20 340.65H575.49M391.80 334.04H401.41M580.20 334.04H570.59M391.80 327.43H396.51M580.20 327.43H575.49M391.80 320.81H396.51M580.20 320.81H575.49M391.80 314.19H396.51M580.20 314.19H575.49M391.80 307.58H401.41M580.20 307.58H570.59M391.80 300.96H396.51M580.20 300.96H575.49M391.80 294.35H396.51M580.20 294.35H575.49M391.80 287.74H396.51M580.20 287.74H575.49M391.80 281.12H401.41M580.20 281.12H570.59M391.80 274.50H396.51M580.20 274.50H575.49M391.80 267.89H396.51M580.20 267.89H575.49M391.80 261.27H396.51M580.20 261.27H575.49M391.80 254.66H401.41M580.20 254.66H570.59M391.80 248.04H396.51M580.20 248.04H575.49M391.80 241.43H396.51M580.20 241.43H575.49M391.80 234.81H396.51M580.20 234.81H575.49" stroke="#000" stroke-width="1.5" fill="none"/><rect x="391.80" y="228.20" width="188.40" height="132.30" stroke="#000" stroke-width="1.5" stroke-linejoin="round" fill="none"/><text x="385.00" y="365.80" text-anchor="end">0</text><text x="385.00" y="341.04" text-anchor="end">2×10<tspan dy="-7.0" font-size="9.0">9</tspan></text><text x="385.00" y="314.58" text-anchor="end">4×10<tspan dy="-7.0" font-size="9.0">9</tspan></text><text x="385.00" y="288.12" text-anchor="end">6×10<tspan dy="-7.0" font-size="9.0">9</tspan></text><text x="385.00" y="261.66" text-anchor="end">8×10<tspan dy="-7.0" font-size="9.0">9</tspan></text><text x="385.00" y="235.20" text-anchor="end">1×10<tspan dy="-7.0" font-size="9.0">10</tspan></text><text x="391.80" y="377.80" text-anchor="middle">−4×10<tspan dy="-7.0" font-size="9.0">4</tspan></text><text x="438.90" y="377.80" text-anchor="middle">−2×10<tspan dy="-7.0" font-size="9.0">4</tspan></text><text x="486.00" y="377.80" text-anchor="middle">0</text><text x="531.10" y="377.80" text-anchor="middle">2×10<tspan dy="-7.0" font-size="9.0">4</tspan></text><text x="578.00" y="377.80" text-anchor="middle">4×10<tspan dy="-7.0" font-size="9.0">4</tspan></text><text x="484.70" y="392.10" text-anchor="middle">Cometocentric Distance (km)</text><text transform="translate(329.30 292.85) rotate(-90)" x="0" y="0" text-anchor="middle" font-size="14.2">Column Density of C<tspan dy="1.6" font-size="6.5">2</tspan><tspan dy="-1.6"> (cm</tspan><tspan dy="-7.5" font-size="10.5">−2</tspan><tspan dy="7.5">)</tspan></text><text transform="translate(428.00 252.70) scale(1 1.07)" x="0" y="0" font-size="15.3">90<tspan dy="-6.3" font-size="9.5">o</tspan></text><text transform="translate(518.90 252.70) scale(1 1.07)" x="0" y="0" font-size="15.3">270<tspan dy="-6.3" font-size="9.5">o</tspan></text></g><g><g><path d="M144.49 521.54L144.49 517.04M144.49 521.54L140.21 520.15M144.49 521.54L141.84 525.18M144.49 521.54L147.13 525.18M144.49 521.54L148.77 520.15M163.81 508.93L163.81 504.43M163.81 508.93L159.53 507.54M163.81 508.93L161.17 512.57M163.81 508.93L166.46 512.57M163.81 508.93L168.09 507.54M134.53 524.01L134.53 519.51M134.53 524.01L130.25 522.62M134.53 524.01L131.89 527.65M134.53 524.01L137.18 527.65M134.53 524.01L138.81 522.62M147.81 522.17L147.81 517.67M147.81 522.17L143.53 520.78M147.81 522.17L145.17 525.81M147.81 522.17L150.46 525.81M147.81 522.17L152.09 520.78M157.57 513.33L157.57 508.83M157.57 513.33L153.29 511.94M157.57 513.33L154.92 516.97M157.57 513.33L160.21 516.97M157.57 513.33L161.85 511.94M138.55 525.88L138.55 521.38M138.55 525.88L134.27 524.49M138.55 525.88L135.90 529.52M138.55 525.88L141.19 529.52M138.55 525.88L142.83 524.49M148.39 520.65L148.39 516.15M148.39 520.65L144.11 519.26M148.39 520.65L145.75 524.29M148.39 520.65L151.04 524.29M148.39 520.65L152.67 519.26M144.30 525.35L144.30 520.85M144.30 525.35L140.02 523.96M144.30 525.35L141.66 528.99M144.30 525.35L146.95 528.99M144.30 525.35L148.58 523.96M144.49 523.35L144.49 518.85M144.49 523.35L140.21 521.96M144.49 523.35L141.85 526.99M144.49 523.35L147.14 526.99M144.49 523.35L148.77 521.96M146.29 522.01L146.29 517.51M146.29 522.01L142.01 520.62M146.29 522.01L143.64 525.65M146.29 522.01L148.93 525.65M146.29 522.01L150.57 520.62M166.57 507.19L166.57 502.69M166.57 507.19L162.29 505.80M166.57 507.19L163.92 510.83M166.57 507.19L169.21 510.83M166.57 507.19L170.85 505.80M146.55 520.82L146.55 516.32M146.55 520.82L142.27 519.43M146.55 520.82L143.91 524.46M146.55 520.82L149.20 524.46M146.55 520.82L150.83 519.43M161.12 510.27L161.12 505.77M161.12 510.27L156.84 508.88M161.12 510.27L158.48 513.91M161.12 510.27L163.77 513.91M161.12 510.27L165.40 508.88M132.24 528.64L132.24 524.14M132.24 528.64L127.96 527.25M132.24 528.64L129.59 532.28M132.24 528.64L134.88 532.28M132.24 528.64L136.51 527.25M217.64 497.90L217.64 493.40M217.64 497.90L213.36 496.51M217.64 497.90L215.00 501.54M217.64 497.90L220.29 501.54M217.64 497.90L221.92 496.51M224.14 503.96L224.14 499.46M224.14 503.96L219.86 502.57M224.14 503.96L221.50 507.60M224.14 503.96L226.79 507.60M224.14 503.96L228.42 502.57M209.27 495.41L209.27 490.91M209.27 495.41L204.99 494.02M209.27 495.41L206.62 499.05M209.27 495.41L211.91 499.05M209.27 495.41L213.55 494.02M208.76 496.77L208.76 492.27M208.76 496.77L204.48 495.38M208.76 496.77L206.12 500.41M208.76 496.77L211.41 500.41M208.76 496.77L213.04 495.38M238.71 502.09L238.71 497.59M238.71 502.09L234.43 500.70M238.71 502.09L236.06 505.73M238.71 502.09L241.35 505.73M238.71 502.09L242.99 500.70M232.42 506.14L232.42 501.64M232.42 506.14L228.14 504.75M232.42 506.14L229.78 509.79M232.42 506.14L235.07 509.79M232.42 506.14L236.70 504.75M224.05 504.10L224.05 499.60M224.05 504.10L219.77 502.71M224.05 504.10L221.40 507.74M224.05 504.10L226.69 507.74M224.05 504.10L228.33 502.71M187.98 488.94L187.98 484.44M187.98 488.94L183.70 487.55M187.98 488.94L185.33 492.58M187.98 488.94L190.62 492.58M187.98 488.94L192.26 487.55M207.96 499.26L207.96 494.76M207.96 499.26L203.68 497.87M207.96 499.26L205.31 502.90M207.96 499.26L210.60 502.90M207.96 499.26L212.24 497.87M236.37 501.10L236.37 496.60M236.37 501.10L232.10 499.71M236.37 501.10L233.73 504.74M236.37 501.10L239.02 504.74M236.37 501.10L240.65 499.71M227.82 506.00L227.82 501.50M227.82 506.00L223.54 504.61M227.82 506.00L225.18 509.64M227.82 506.00L230.47 509.64M227.82 506.00L232.10 504.61M179.39 482.64L179.39 478.14M179.39 482.64L175.11 481.25M179.39 482.64L176.74 486.28M179.39 482.64L182.03 486.28M179.39 482.64L183.67 481.25M225.66 501.49L225.66 496.99M225.66 501.49L221.38 500.10M225.66 501.49L223.02 505.13M225.66 501.49L228.31 505.13M225.66 501.49L229.94 500.10M235.07 501.63L235.07 497.13M235.07 501.63L230.79 500.24M235.07 501.63L232.42 505.27M235.07 501.63L237.71 505.27M235.07 501.63L239.35 500.24M229.65 502.61L229.65 498.11M229.65 502.61L225.37 501.22M229.65 502.61L227.00 506.25M229.65 502.61L232.29 506.25M229.65 502.61L233.93 501.22M208.65 499.42L208.65 494.92M208.65 499.42L204.37 498.03M208.65 499.42L206.00 503.06M208.65 499.42L211.29 503.06M208.65 499.42L212.93 498.03M188.96 485.57L188.96 481.07M188.96 485.57L184.68 484.18M188.96 485.57L186.31 489.21M188.96 485.57L191.60 489.21M188.96 485.57L193.24 484.18M208.90 496.55L208.90 492.05M208.90 496.55L204.62 495.16M208.90 496.55L206.26 500.19M208.90 496.55L211.55 500.19M208.90 496.55L213.18 495.16M177.47 481.43L177.47 476.93M177.47 481.43L173.19 480.04M177.47 481.43L174.82 485.07M177.47 481.43L180.11 485.07M177.47 481.43L181.75 480.04M185.80 488.21L185.80 483.71M185.80 488.21L181.52 486.82M185.80 488.21L183.16 491.85M185.80 488.21L188.45 491.85M185.80 488.21L190.08 486.82M220.54 502.75L220.54 498.25M220.54 502.75L216.26 501.36M220.54 502.75L217.89 506.39M220.54 502.75L223.18 506.39M220.54 502.75L224.82 501.36M186.31 487.57L186.31 483.07M186.31 487.57L182.03 486.17M186.31 487.57L183.66 491.21M186.31 487.57L188.95 491.21M186.31 487.57L190.59 486.17M182.71 484.84L182.71 480.34M182.71 484.84L178.43 483.45M182.71 484.84L180.07 488.48M182.71 484.84L185.36 488.48M182.71 484.84L186.99 483.45M173.70 478.50L173.70 472.70M173.70 478.50L168.18 476.71M173.70 478.50L170.29 483.19M173.70 478.50L177.11 483.19M173.70 478.50L179.22 476.71M171.00 481.00L171.00 475.20M171.00 481.00L165.48 479.21M171.00 481.00L167.59 485.69M171.00 481.00L174.41 485.69M171.00 481.00L176.52 479.21M176.00 476.00L176.00 470.20M176.00 476.00L170.48 474.21M176.00 476.00L172.59 480.69M176.00 476.00L179.41 480.69M176.00 476.00L181.52 474.21M167.20 498.20L167.20 492.40M167.20 498.20L161.68 496.41M167.20 498.20L163.79 502.89M167.20 498.20L170.61 502.89M167.20 498.20L172.72 496.41M152.00 515.20L152.00 509.40M152.00 515.20L146.48 513.41M152.00 515.20L148.59 519.89M152.00 515.20L155.41 519.89M152.00 515.20L157.52 513.41" stroke="#8a8a8a" stroke-width="1.3" fill="none"/><g stroke="#000" stroke-width="1.5" fill="none"><path d="M133.23 521.88L138.53 527.18L133.23 532.48L127.93 527.18Z" fill="none"/><path d="M134.08 523.43L139.38 528.73L134.08 534.03L128.78 528.73Z" fill="none"/><path d="M135.59 526.19L140.89 531.49L135.59 536.79L130.29 531.49Z" fill="none"/><path d="M137.96 520.93L143.26 526.23L137.96 531.53L132.66 526.23Z" fill="none"/><path d="M139.33 524.21L144.63 529.51L139.33 534.81L134.03 529.51Z" fill="none"/><path d="M141.18 524.22L146.48 529.52L141.18 534.82L135.88 529.52Z" fill="none"/><path d="M143.35 519.99L148.65 525.29L143.35 530.59L138.05 525.29Z" fill="none"/><path d="M145.32 520.23L150.62 525.53L145.32 530.83L140.02 525.53Z" fill="none"/><path d="M146.12 523.46L151.42 528.76L146.12 534.06L140.82 528.76Z" fill="none"/><path d="M148.40 518.74L153.70 524.04L148.40 529.34L143.10 524.04Z" fill="none"/><path d="M148.73 519.37L154.03 524.67L148.73 529.97L143.43 524.67Z" fill="none"/><path d="M150.53 520.27L155.83 525.57L150.53 530.87L145.23 525.57Z" fill="none"/><path d="M153.62 514.82L158.92 520.12L153.62 525.42L148.32 520.12Z" fill="none"/><path d="M155.22 515.32L160.52 520.62L155.22 525.92L149.92 520.62Z" fill="none"/><path d="M156.78 516.58L162.08 521.88L156.78 527.18L151.48 521.88Z" fill="none"/><path d="M157.43 512.41L162.73 517.71L157.43 523.01L152.13 517.71Z" fill="none"/><path d="M160.24 510.74L165.54 516.04L160.24 521.34L154.94 516.04Z" fill="none"/><path d="M161.33 513.47L166.63 518.77L161.33 524.07L156.03 518.77Z" fill="none"/><path d="M162.36 506.50L167.66 511.80L162.36 517.10L157.06 511.80Z" fill="none"/><path d="M163.90 507.02L169.20 512.32L163.90 517.62L158.60 512.32Z" fill="none"/><path d="M165.76 508.80L171.06 514.10L165.76 519.40L160.46 514.10Z" fill="none"/><path d="M168.09 497.66L173.39 502.96L168.09 508.26L162.79 502.96Z" fill="none"/><path d="M168.69 499.13L173.99 504.43L168.69 509.73L163.39 504.43Z" fill="none"/><path d="M171.46 498.07L176.76 503.37L171.46 508.67L166.16 503.37Z" fill="none"/><path d="M175.71 480.71L181.01 486.01L175.71 491.31L170.41 486.01Z" fill="none"/><path d="M177.36 484.48L182.66 489.78L177.36 495.08L172.06 489.78Z" fill="none"/><path d="M179.12 485.50L184.42 490.80L179.12 496.10L173.82 490.80Z" fill="none"/><path d="M180.05 480.47L185.35 485.77L180.05 491.07L174.75 485.77Z" fill="none"/><path d="M182.77 485.54L188.07 490.84L182.77 496.14L177.47 490.84Z" fill="none"/><path d="M183.52 487.81L188.82 493.11L183.52 498.41L178.22 493.11Z" fill="none"/><path d="M185.67 482.63L190.97 487.93L185.67 493.23L180.37 487.93Z" fill="none"/><path d="M186.97 485.49L192.27 490.79L186.97 496.09L181.67 490.79Z" fill="none"/><path d="M189.27 492.49L194.57 497.79L189.27 503.09L183.97 497.79Z" fill="none"/><path d="M190.26 484.21L195.56 489.51L190.26 494.81L184.96 489.51Z" fill="none"/><path d="M193.10 491.45L198.40 496.75L193.10 502.05L187.80 496.75Z" fill="none"/><path d="M193.76 492.41L199.06 497.71L193.76 503.01L188.46 497.71Z" fill="none"/><path d="M196.68 489.90L201.98 495.20L196.68 500.50L191.38 495.20Z" fill="none"/><path d="M197.58 490.57L202.88 495.87L197.58 501.17L192.28 495.87Z" fill="none"/><path d="M200.00 495.47L205.30 500.77L200.00 506.07L194.70 500.77Z" fill="none"/><path d="M201.64 491.15L206.94 496.45L201.64 501.75L196.34 496.45Z" fill="none"/><path d="M203.18 493.38L208.48 498.68L203.18 503.98L197.88 498.68Z" fill="none"/><path d="M204.79 497.27L210.09 502.57L204.79 507.87L199.49 502.57Z" fill="none"/><path d="M205.83 493.65L211.13 498.95L205.83 504.25L200.53 498.95Z" fill="none"/><path d="M208.21 495.86L213.51 501.16L208.21 506.46L202.91 501.16Z" fill="none"/><path d="M208.87 499.83L214.17 505.13L208.87 510.43L203.57 505.13Z" fill="none"/><path d="M211.04 494.67L216.34 499.97L211.04 505.27L205.74 499.97Z" fill="none"/><path d="M212.06 497.70L217.36 503.00L212.06 508.30L206.76 503.00Z" fill="none"/><path d="M214.74 504.23L220.04 509.53L214.74 514.83L209.44 509.53Z" fill="none"/><path d="M215.27 496.57L220.57 501.87L215.27 507.17L209.97 501.87Z" fill="none"/><path d="M218.14 499.19L223.44 504.49L218.14 509.79L212.84 504.49Z" fill="none"/><path d="M219.95 504.11L225.25 509.41L219.95 514.71L214.65 509.41Z" fill="none"/><path d="M221.23 498.49L226.53 503.79L221.23 509.09L215.93 503.79Z" fill="none"/><path d="M222.95 502.26L228.25 507.56L222.95 512.86L217.65 507.56Z" fill="none"/><path d="M224.28 507.80L229.58 513.10L224.28 518.40L218.98 513.10Z" fill="none"/><path d="M225.96 500.97L231.26 506.27L225.96 511.57L220.66 506.27Z" fill="none"/><path d="M227.67 504.26L232.97 509.56L227.67 514.86L222.37 509.56Z" fill="none"/><path d="M228.64 508.70L233.94 514.00L228.64 519.30L223.34 514.00Z" fill="none"/><path d="M231.09 500.13L236.39 505.43L231.09 510.73L225.79 505.43Z" fill="none"/><path d="M233.23 504.52L238.53 509.82L233.23 515.12L227.93 509.82Z" fill="none"/><path d="M234.39 505.32L239.69 510.62L234.39 515.92L229.09 510.62Z" fill="none"/><path d="M236.09 498.17L241.39 503.47L236.09 508.77L230.79 503.47Z" fill="none"/><path d="M237.19 502.19L242.49 507.49L237.19 512.79L231.89 507.49Z" fill="none"/><path d="M238.80 504.25L244.10 509.55L238.80 514.85L233.50 509.55Z" fill="none"/><path d="M241.18 500.35L246.48 505.65L241.18 510.95L235.88 505.65Z" fill="none"/><path d="M170.50 437.80L175.80 443.10L170.50 448.40L165.20 443.10Z" fill="none"/><path d="M171.80 443.70L177.10 449.00L171.80 454.30L166.50 449.00Z" fill="none"/><path d="M144.00 459.00L149.30 464.30L144.00 469.60L138.70 464.30Z" fill="none"/><path d="M177.00 478.40L182.30 483.70L177.00 489.00L171.70 483.70Z" fill="none"/><path d="M172.40 486.30L177.70 491.60L172.40 496.90L167.10 491.60Z" fill="none"/><path d="M176.40 501.40L181.70 506.70L176.40 512.00L171.10 506.70Z" fill="none"/></g><path d="M77.70 541.70 L80.17 541.30 L83.37 540.80 L87.17 540.21 L91.46 539.56 L96.08 538.84 L100.91 538.08 L105.83 537.29 L110.69 536.48 L115.37 535.66 L119.73 534.85 L123.66 534.06 L127.00 533.30 L129.86 532.57 L132.45 531.86 L134.79 531.15 L136.91 530.44 L138.85 529.73 L140.64 529.00 L142.32 528.25 L143.90 527.48 L145.43 526.68 L146.93 525.83 L148.45 524.94 L150.00 524.00 L151.56 523.00 L153.06 521.95 L154.50 520.85 L155.89 519.72 L157.22 518.55 L158.50 517.36 L159.72 516.14 L160.89 514.91 L162.00 513.68 L163.06 512.45 L164.06 511.22 L165.00 510.00 L165.89 508.74 L166.71 507.38 L167.48 505.97 L168.19 504.52 L168.84 503.06 L169.44 501.62 L169.98 500.24 L170.48 498.93 L170.93 497.72 L171.33 496.64 L171.69 495.73 L172.00 495.00" stroke="#000" stroke-width="1.45" fill="none"/><path d="M171.80 446.40 L171.95 446.99 L172.14 447.71 L172.36 448.55 L172.60 449.49 L172.87 450.52 L173.15 451.61 L173.45 452.76 L173.76 453.96 L174.07 455.17 L174.38 456.39 L174.70 457.61 L175.00 458.80 L175.31 460.03 L175.64 461.34 L175.98 462.73 L176.33 464.16 L176.68 465.61 L177.04 467.07 L177.39 468.50 L177.74 469.90 L178.08 471.22 L178.41 472.47 L178.71 473.60 L179.00 474.60 L179.18 475.42 L179.22 476.04 L179.14 476.52 L179.01 476.89 L178.88 477.19 L178.77 477.47 L178.76 477.77 L178.87 478.14 L179.17 478.61 L179.69 479.23 L180.48 480.05 L181.60 481.10 L183.06 482.42 L184.82 483.99 L186.84 485.75 L189.08 487.67 L191.50 489.69 L194.06 491.78 L196.71 493.88 L199.42 495.94 L202.15 497.94 L204.85 499.81 L207.48 501.51 L210.00 503.00 L212.49 504.31 L215.04 505.52 L217.64 506.63 L220.26 507.65 L222.90 508.60 L225.54 509.48 L228.17 510.31 L230.76 511.08 L233.30 511.82 L235.79 512.53 L238.19 513.22 L240.50 513.90 L242.79 514.56 L245.12 515.18 L247.46 515.76 L249.78 516.31 L252.06 516.81 L254.26 517.28 L256.35 517.71 L258.31 518.10 L260.10 518.46 L261.70 518.78 L263.08 519.06 L264.20 519.30" stroke="#000" stroke-width="1.45" fill="none"/></g><path d="M89.36 557.20V554.04M89.36 430.70V433.86M101.01 557.20V554.04M101.01 430.70V433.86M112.67 557.20V554.04M112.67 430.70V433.86M124.33 557.20V550.75M124.33 430.70V437.15M135.98 557.20V554.04M135.98 430.70V433.86M147.64 557.20V554.04M147.64 430.70V433.86M159.29 557.20V554.04M159.29 430.70V433.86M170.95 557.20V550.75M170.95 430.70V437.15M182.61 557.20V554.04M182.61 430.70V433.86M194.26 557.20V554.04M194.26 430.70V433.86M205.92 557.20V554.04M205.92 430.70V433.86M217.57 557.20V550.75M217.57 430.70V437.15M229.23 557.20V554.04M229.23 430.70V433.86M240.89 557.20V554.04M240.89 430.70V433.86M252.54 557.20V554.04M252.54 430.70V433.86M77.70 550.88H82.36M264.20 550.88H259.54M77.70 544.55H82.36M264.20 544.55H259.54M77.70 538.23H82.36M264.20 538.23H259.54M77.70 531.90H87.21M264.20 531.90H254.69M77.70 525.58H82.36M264.20 525.58H259.54M77.70 519.25H82.36M264.20 519.25H259.54M77.70 512.93H82.36M264.20 512.93H259.54M77.70 506.60H87.21M264.20 506.60H254.69M77.70 500.28H82.36M264.20 500.28H259.54M77.70 493.95H82.36M264.20 493.95H259.54M77.70 487.62H82.36M264.20 487.62H259.54M77.70 481.30H87.21M264.20 481.30H254.69M77.70 474.98H82.36M264.20 474.98H259.54M77.70 468.65H82.36M264.20 468.65H259.54M77.70 462.32H82.36M264.20 462.32H259.54M77.70 456.00H87.21M264.20 456.00H254.69M77.70 449.68H82.36M264.20 449.68H259.54M77.70 443.35H82.36M264.20 443.35H259.54M77.70 437.02H82.36M264.20 437.02H259.54" stroke="#000" stroke-width="1.5" fill="none"/><rect x="77.70" y="430.70" width="186.50" height="126.50" stroke="#000" stroke-width="1.5" stroke-linejoin="round" fill="none"/><text x="70.90" y="562.50" text-anchor="end">0</text><text x="70.90" y="538.90" text-anchor="end">2×10<tspan dy="-7.0" font-size="9.0">9</tspan></text><text x="70.90" y="513.60" text-anchor="end">4×10<tspan dy="-7.0" font-size="9.0">9</tspan></text><text x="70.90" y="488.30" text-anchor="end">6×10<tspan dy="-7.0" font-size="9.0">9</tspan></text><text x="70.90" y="463.00" text-anchor="end">8×10<tspan dy="-7.0" font-size="9.0">9</tspan></text><text x="70.90" y="437.70" text-anchor="end">1×10<tspan dy="-7.0" font-size="9.0">10</tspan></text><text x="77.70" y="574.50" text-anchor="middle">−4×10<tspan dy="-7.0" font-size="9.0">4</tspan></text><text x="124.33" y="574.50" text-anchor="middle">−2×10<tspan dy="-7.0" font-size="9.0">4</tspan></text><text x="170.95" y="574.50" text-anchor="middle">0</text><text x="215.57" y="574.50" text-anchor="middle">2×10<tspan dy="-7.0" font-size="9.0">4</tspan></text><text x="262.00" y="574.50" text-anchor="middle">4×10<tspan dy="-7.0" font-size="9.0">4</tspan></text><text x="169.65" y="588.80" text-anchor="middle">Cometocentric Distance (km)</text><text transform="translate(15.20 492.45) rotate(-90)" x="0" y="0" text-anchor="middle" font-size="14.2">Column Density of C<tspan dy="1.6" font-size="6.5">2</tspan><tspan dy="-1.6"> (cm</tspan><tspan dy="-7.5" font-size="10.5">−2</tspan><tspan dy="7.5">)</tspan></text><text transform="translate(109.00 455.00) scale(1 1.07)" x="0" y="0" font-size="15.3">135<tspan dy="-6.3" font-size="9.5">o</tspan></text><text transform="translate(204.10 455.00) scale(1 1.07)" x="0" y="0" font-size="15.3">315<tspan dy="-6.3" font-size="9.5">o</tspan></text></g><g><g><path d="M447.99 526.57L447.99 522.07M447.99 526.57L443.71 525.18M447.99 526.57L445.34 530.21M447.99 526.57L450.63 530.21M447.99 526.57L452.27 525.18M452.01 521.09L452.01 516.59M452.01 521.09L447.73 519.70M452.01 521.09L449.37 524.73M452.01 521.09L454.66 524.73M452.01 521.09L456.29 519.70M446.54 525.61L446.54 521.11M446.54 525.61L442.27 524.22M446.54 525.61L443.90 529.25M446.54 525.61L449.19 529.25M446.54 525.61L450.82 524.22M475.24 514.91L475.24 510.41M475.24 514.91L470.96 513.52M475.24 514.91L472.59 518.55M475.24 514.91L477.88 518.55M475.24 514.91L479.52 513.52M457.87 519.09L457.87 514.59M457.87 519.09L453.59 517.69M457.87 519.09L455.23 522.73M457.87 519.09L460.52 522.73M457.87 519.09L462.15 517.69M443.43 526.80L443.43 522.30M443.43 526.80L439.15 525.41M443.43 526.80L440.78 530.44M443.43 526.80L446.07 530.44M443.43 526.80L447.71 525.41M463.81 516.39L463.81 511.89M463.81 516.39L459.53 515.00M463.81 516.39L461.16 520.03M463.81 516.39L466.45 520.03M463.81 516.39L468.09 515.00M466.89 514.90L466.89 510.40M466.89 514.90L462.61 513.51M466.89 514.90L464.24 518.54M466.89 514.90L469.53 518.54M466.89 514.90L471.17 513.51M511.98 489.75L511.98 485.25M511.98 489.75L507.71 488.36M511.98 489.75L509.34 493.39M511.98 489.75L514.63 493.39M511.98 489.75L516.26 488.36M542.09 503.27L542.09 498.77M542.09 503.27L537.81 501.88M542.09 503.27L539.45 506.91M542.09 503.27L544.74 506.91M542.09 503.27L546.37 501.88M492.35 477.04L492.35 472.54M492.35 477.04L488.07 475.65M492.35 477.04L489.71 480.68M492.35 477.04L495.00 480.68M492.35 477.04L496.63 475.65M548.35 505.22L548.35 500.72M548.35 505.22L544.07 503.83M548.35 505.22L545.71 508.86M548.35 505.22L551.00 508.86M548.35 505.22L552.63 503.83M495.07 473.35L495.07 468.85M495.07 473.35L490.79 471.96M495.07 473.35L492.42 476.99M495.07 473.35L497.71 476.99M495.07 473.35L499.35 471.96M495.39 472.60L495.39 468.10M495.39 472.60L491.11 471.21M495.39 472.60L492.74 476.25M495.39 472.60L498.04 476.25M495.39 472.60L499.67 471.21M543.95 503.33L543.95 498.83M543.95 503.33L539.67 501.94M543.95 503.33L541.30 506.97M543.95 503.33L546.59 506.97M543.95 503.33L548.23 501.94M529.86 494.02L529.86 489.52M529.86 494.02L525.58 492.63M529.86 494.02L527.21 497.66M529.86 494.02L532.50 497.66M529.86 494.02L534.14 492.63M529.68 491.21L529.68 486.71M529.68 491.21L525.40 489.82M529.68 491.21L527.04 494.85M529.68 491.21L532.33 494.85M529.68 491.21L533.96 489.82M494.59 472.85L494.59 468.35M494.59 472.85L490.31 471.46M494.59 472.85L491.95 476.49M494.59 472.85L497.24 476.49M494.59 472.85L498.87 471.46M537.99 498.27L537.99 493.77M537.99 498.27L533.71 496.88M537.99 498.27L535.34 501.91M537.99 498.27L540.63 501.91M537.99 498.27L542.27 496.88M509.06 485.62L509.06 481.12M509.06 485.62L504.78 484.23M509.06 485.62L506.42 489.26M509.06 485.62L511.71 489.26M509.06 485.62L513.34 484.23M489.38 474.43L489.38 469.93M489.38 474.43L485.10 473.04M489.38 474.43L486.74 478.07M489.38 474.43L492.03 478.07M489.38 474.43L493.66 473.04M506.65 485.03L506.65 480.53M506.65 485.03L502.37 483.64M506.65 485.03L504.01 488.67M506.65 485.03L509.30 488.67M506.65 485.03L510.93 483.64M484.30 463.10L484.30 457.30M484.30 463.10L478.78 461.31M484.30 463.10L480.89 467.79M484.30 463.10L487.71 467.79M484.30 463.10L489.82 461.31M470.00 508.00L470.00 502.20M470.00 508.00L464.48 506.21M470.00 508.00L466.59 512.69M470.00 508.00L473.41 512.69M470.00 508.00L475.52 506.21M481.80 497.40L481.80 491.60M481.80 497.40L476.28 495.61M481.80 497.40L478.39 502.09M481.80 497.40L485.21 502.09M481.80 497.40L487.32 495.61M535.60 491.10L535.60 485.30M535.60 491.10L530.08 489.31M535.60 491.10L532.19 495.79M535.60 491.10L539.01 495.79M535.60 491.10L541.12 489.31M549.00 495.40L549.00 489.60M549.00 495.40L543.48 493.61M549.00 495.40L545.59 500.09M549.00 495.40L552.41 500.09M549.00 495.40L554.52 493.61M554.00 497.00L554.00 491.20M554.00 497.00L548.48 495.21M554.00 497.00L550.59 501.69M554.00 497.00L557.41 501.69M554.00 497.00L559.52 495.21" stroke="#8a8a8a" stroke-width="1.3" fill="none"/><g stroke="#000" stroke-width="1.5" fill="none"><path d="M443.98 521.93L449.28 527.23L443.98 532.53L438.68 527.23Z" fill="none"/><path d="M445.89 524.18L451.19 529.48L445.89 534.78L440.59 529.48Z" fill="none"/><path d="M446.98 527.16L452.28 532.46L446.98 537.76L441.68 532.46Z" fill="none"/><path d="M447.79 522.18L453.09 527.48L447.79 532.78L442.49 527.48Z" fill="none"/><path d="M450.14 522.44L455.44 527.74L450.14 533.04L444.84 527.74Z" fill="none"/><path d="M451.94 524.05L457.24 529.35L451.94 534.65L446.64 529.35Z" fill="none"/><path d="M453.78 518.82L459.08 524.12L453.78 529.42L448.48 524.12Z" fill="none"/><path d="M454.35 521.78L459.65 527.08L454.35 532.38L449.05 527.08Z" fill="none"/><path d="M456.02 522.25L461.32 527.55L456.02 532.85L450.72 527.55Z" fill="none"/><path d="M458.02 515.53L463.32 520.83L458.02 526.13L452.72 520.83Z" fill="none"/><path d="M459.68 518.23L464.98 523.53L459.68 528.83L454.38 523.53Z" fill="none"/><path d="M460.94 522.67L466.24 527.97L460.94 533.27L455.64 527.97Z" fill="none"/><path d="M462.40 515.11L467.70 520.41L462.40 525.71L457.10 520.41Z" fill="none"/><path d="M463.52 515.33L468.82 520.63L463.52 525.93L458.22 520.63Z" fill="none"/><path d="M464.64 517.79L469.94 523.09L464.64 528.39L459.34 523.09Z" fill="none"/><path d="M467.07 511.44L472.37 516.74L467.07 522.04L461.77 516.74Z" fill="none"/><path d="M468.46 514.50L473.76 519.80L468.46 525.10L463.16 519.80Z" fill="none"/><path d="M469.41 514.74L474.71 520.04L469.41 525.34L464.11 520.04Z" fill="none"/><path d="M471.76 508.55L477.06 513.85L471.76 519.15L466.46 513.85Z" fill="none"/><path d="M472.30 511.19L477.60 516.49L472.30 521.79L467.00 516.49Z" fill="none"/><path d="M474.00 511.83L479.30 517.13L474.00 522.43L468.70 517.13Z" fill="none"/><path d="M475.72 509.14L481.02 514.44L475.72 519.74L470.42 514.44Z" fill="none"/><path d="M477.82 508.77L483.12 514.07L477.82 519.37L472.52 514.07Z" fill="none"/><path d="M479.42 507.99L484.72 513.29L479.42 518.59L474.12 513.29Z" fill="none"/><path d="M489.34 472.28L494.64 477.58L489.34 482.88L484.04 477.58Z" fill="none"/><path d="M489.79 474.54L495.09 479.84L489.79 485.14L484.49 479.84Z" fill="none"/><path d="M490.93 476.22L496.23 481.52L490.93 486.82L485.63 481.52Z" fill="none"/><path d="M492.89 470.96L498.19 476.26L492.89 481.56L487.59 476.26Z" fill="none"/><path d="M493.82 475.40L499.12 480.70L493.82 486.00L488.52 480.70Z" fill="none"/><path d="M495.19 478.39L500.49 483.69L495.19 488.99L489.89 483.69Z" fill="none"/><path d="M497.96 471.53L503.26 476.83L497.96 482.13L492.66 476.83Z" fill="none"/><path d="M498.33 477.15L503.63 482.45L498.33 487.75L493.03 482.45Z" fill="none"/><path d="M500.21 482.37L505.51 487.67L500.21 492.97L494.91 487.67Z" fill="none"/><path d="M502.08 474.78L507.38 480.08L502.08 485.38L496.78 480.08Z" fill="none"/><path d="M502.79 479.27L508.09 484.57L502.79 489.87L497.49 484.57Z" fill="none"/><path d="M503.85 484.91L509.15 490.21L503.85 495.51L498.55 490.21Z" fill="none"/><path d="M506.34 480.89L511.64 486.19L506.34 491.49L501.04 486.19Z" fill="none"/><path d="M506.66 484.41L511.96 489.71L506.66 495.01L501.36 489.71Z" fill="none"/><path d="M509.16 489.01L514.46 494.31L509.16 499.61L503.86 494.31Z" fill="none"/><path d="M510.59 483.82L515.89 489.12L510.59 494.42L505.29 489.12Z" fill="none"/><path d="M511.28 486.22L516.58 491.52L511.28 496.82L505.98 491.52Z" fill="none"/><path d="M512.72 489.56L518.02 494.86L512.72 500.16L507.42 494.86Z" fill="none"/><path d="M514.31 486.85L519.61 492.15L514.31 497.45L509.01 492.15Z" fill="none"/><path d="M516.26 490.13L521.56 495.43L516.26 500.73L510.96 495.43Z" fill="none"/><path d="M517.72 491.20L523.02 496.50L517.72 501.80L512.42 496.50Z" fill="none"/><path d="M518.92 487.83L524.22 493.13L518.92 498.43L513.62 493.13Z" fill="none"/><path d="M520.70 490.08L526.00 495.38L520.70 500.68L515.40 495.38Z" fill="none"/><path d="M521.38 492.69L526.68 497.99L521.38 503.29L516.08 497.99Z" fill="none"/><path d="M523.82 485.68L529.12 490.98L523.82 496.28L518.52 490.98Z" fill="none"/><path d="M525.13 488.14L530.43 493.44L525.13 498.74L519.83 493.44Z" fill="none"/><path d="M525.68 492.79L530.98 498.09L525.68 503.39L520.38 498.09Z" fill="none"/><path d="M527.81 488.99L533.11 494.29L527.81 499.59L522.51 494.29Z" fill="none"/><path d="M529.24 490.57L534.54 495.87L529.24 501.17L523.94 495.87Z" fill="none"/><path d="M530.87 494.02L536.17 499.32L530.87 504.62L525.57 499.32Z" fill="none"/><path d="M531.39 491.27L536.69 496.57L531.39 501.87L526.09 496.57Z" fill="none"/><path d="M533.38 495.14L538.68 500.44L533.38 505.74L528.08 500.44Z" fill="none"/><path d="M534.87 499.52L540.17 504.82L534.87 510.12L529.57 504.82Z" fill="none"/><path d="M536.02 495.80L541.32 501.10L536.02 506.40L530.72 501.10Z" fill="none"/><path d="M537.78 499.40L543.08 504.70L537.78 510.00L532.48 504.70Z" fill="none"/><path d="M538.84 502.45L544.14 507.75L538.84 513.05L533.54 507.75Z" fill="none"/><path d="M540.47 496.96L545.77 502.26L540.47 507.56L535.17 502.26Z" fill="none"/><path d="M541.39 500.82L546.69 506.12L541.39 511.42L536.09 506.12Z" fill="none"/><path d="M542.63 504.74L547.93 510.04L542.63 515.34L537.33 510.04Z" fill="none"/><path d="M544.16 497.10L549.46 502.40L544.16 507.70L538.86 502.40Z" fill="none"/><path d="M545.54 502.58L550.84 507.88L545.54 513.18L540.24 507.88Z" fill="none"/><path d="M547.32 502.80L552.62 508.10L547.32 513.40L542.02 508.10Z" fill="none"/><path d="M548.30 498.27L553.60 503.57L548.30 508.87L543.00 503.57Z" fill="none"/><path d="M550.69 501.29L555.99 506.59L550.69 511.89L545.39 506.59Z" fill="none"/><path d="M552.13 501.81L557.43 507.11L552.13 512.41L546.83 507.11Z" fill="none"/><path d="M552.66 500.42L557.96 505.72L552.66 511.02L547.36 505.72Z" fill="none"/><path d="M485.60 445.90L490.90 451.20L485.60 456.50L480.30 451.20Z" fill="none"/><path d="M483.00 466.50L488.30 471.80L483.00 477.10L477.70 471.80Z" fill="none"/><path d="M441.20 526.70L446.50 532.00L441.20 537.30L435.90 532.00Z" fill="none"/><path d="M444.00 523.70L449.30 529.00L444.00 534.30L438.70 529.00Z" fill="none"/><path d="M481.20 495.90L486.50 501.20L481.20 506.50L475.90 501.20Z" fill="#a8a8a8"/></g><path d="M391.80 539.50 L394.01 539.17 L396.87 538.77 L400.26 538.30 L404.07 537.78 L408.20 537.21 L412.51 536.60 L416.91 535.95 L421.28 535.27 L425.51 534.57 L429.48 533.86 L433.08 533.13 L436.20 532.40 L438.93 531.65 L441.46 530.85 L443.80 530.02 L445.99 529.16 L448.02 528.28 L449.94 527.38 L451.75 526.47 L453.48 525.56 L455.15 524.65 L456.78 523.75 L458.39 522.86 L460.00 522.00 L461.59 521.18 L463.11 520.39 L464.58 519.64 L465.98 518.90 L467.32 518.16 L468.60 517.42 L469.82 516.65 L470.98 515.84 L472.08 514.99 L473.11 514.07 L474.09 513.08 L475.00 512.00 L475.84 510.81 L476.59 509.52 L477.26 508.14 L477.86 506.70 L478.39 505.21 L478.88 503.68 L479.32 502.14 L479.73 500.61 L480.12 499.10 L480.48 497.64 L480.84 496.23 L481.20 494.90 L481.55 493.60 L481.86 492.26 L482.14 490.91 L482.40 489.57 L482.63 488.26 L482.84 486.98 L483.02 485.76 L483.19 484.63 L483.34 483.58 L483.47 482.65 L483.59 481.85 L483.70 481.20" stroke="#000" stroke-width="1.45" fill="none"/><path d="M487.70 439.00 L487.87 439.76 L488.09 440.71 L488.35 441.82 L488.63 443.07 L488.94 444.43 L489.28 445.87 L489.62 447.36 L489.97 448.89 L490.32 450.41 L490.66 451.90 L490.99 453.34 L491.30 454.70 L491.58 456.02 L491.82 457.35 L492.05 458.70 L492.26 460.05 L492.47 461.40 L492.69 462.74 L492.94 464.08 L493.22 465.40 L493.54 466.69 L493.92 467.96 L494.37 469.20 L494.90 470.40 L495.50 471.56 L496.15 472.69 L496.85 473.78 L497.60 474.85 L498.40 475.90 L499.24 476.93 L500.12 477.95 L501.03 478.96 L501.98 479.96 L502.96 480.97 L503.97 481.98 L505.00 483.00 L506.01 484.01 L506.98 484.99 L507.92 485.96 L508.87 486.91 L509.85 487.87 L510.89 488.82 L512.03 489.78 L513.28 490.76 L514.67 491.77 L516.24 492.80 L518.01 493.88 L520.00 495.00 L522.29 496.20 L524.89 497.48 L527.74 498.84 L530.79 500.23 L533.98 501.66 L537.26 503.08 L540.58 504.49 L543.88 505.86 L547.11 507.16 L550.21 508.39 L553.12 509.51 L555.80 510.50 L558.35 511.39 L560.91 512.20 L563.44 512.95 L565.92 513.63 L568.33 514.25 L570.64 514.82 L572.82 515.33 L574.86 515.79 L576.72 516.20 L578.38 516.57 L579.82 516.90 L581.00 517.20" stroke="#000" stroke-width="1.45" fill="none"/></g><path d="M403.62 558.20V554.96M403.62 428.70V431.94M415.45 558.20V554.96M415.45 428.70V431.94M427.27 558.20V554.96M427.27 428.70V431.94M439.10 558.20V551.60M439.10 428.70V435.30M450.93 558.20V554.96M450.93 428.70V431.94M462.75 558.20V554.96M462.75 428.70V431.94M474.57 558.20V554.96M474.57 428.70V431.94M486.40 558.20V551.60M486.40 428.70V435.30M498.23 558.20V554.96M498.23 428.70V431.94M510.05 558.20V554.96M510.05 428.70V431.94M521.88 558.20V554.96M521.88 428.70V431.94M533.70 558.20V551.60M533.70 428.70V435.30M545.52 558.20V554.96M545.52 428.70V431.94M557.35 558.20V554.96M557.35 428.70V431.94M569.17 558.20V554.96M569.17 428.70V431.94M391.80 551.73H396.53M581.00 551.73H576.27M391.80 545.25H396.53M581.00 545.25H576.27M391.80 538.78H396.53M581.00 538.78H576.27M391.80 532.30H401.45M581.00 532.30H571.35M391.80 525.83H396.53M581.00 525.83H576.27M391.80 519.35H396.53M581.00 519.35H576.27M391.80 512.88H396.53M581.00 512.88H576.27M391.80 506.40H401.45M581.00 506.40H571.35M391.80 499.93H396.53M581.00 499.93H576.27M391.80 493.45H396.53M581.00 493.45H576.27M391.80 486.98H396.53M581.00 486.98H576.27M391.80 480.50H401.45M581.00 480.50H571.35M391.80 474.02H396.53M581.00 474.02H576.27M391.80 467.55H396.53M581.00 467.55H576.27M391.80 461.07H396.53M581.00 461.07H576.27M391.80 454.60H401.45M581.00 454.60H571.35M391.80 448.12H396.53M581.00 448.12H576.27M391.80 441.65H396.53M581.00 441.65H576.27M391.80 435.18H396.53M581.00 435.18H576.27" stroke="#000" stroke-width="1.5" fill="none"/><rect x="391.80" y="428.70" width="189.20" height="129.50" stroke="#000" stroke-width="1.5" stroke-linejoin="round" fill="none"/><text x="385.00" y="563.50" text-anchor="end">0</text><text x="385.00" y="539.30" text-anchor="end">2×10<tspan dy="-7.0" font-size="9.0">9</tspan></text><text x="385.00" y="513.40" text-anchor="end">4×10<tspan dy="-7.0" font-size="9.0">9</tspan></text><text x="385.00" y="487.50" text-anchor="end">6×10<tspan dy="-7.0" font-size="9.0">9</tspan></text><text x="385.00" y="461.60" text-anchor="end">8×10<tspan dy="-7.0" font-size="9.0">9</tspan></text><text x="385.00" y="435.70" text-anchor="end">1×10<tspan dy="-7.0" font-size="9.0">10</tspan></text><text x="391.80" y="575.50" text-anchor="middle">−4×10<tspan dy="-7.0" font-size="9.0">4</tspan></text><text x="439.10" y="575.50" text-anchor="middle">−2×10<tspan dy="-7.0" font-size="9.0">4</tspan></text><text x="486.40" y="575.50" text-anchor="middle">0</text><text x="531.70" y="575.50" text-anchor="middle">2×10<tspan dy="-7.0" font-size="9.0">4</tspan></text><text x="578.80" y="575.50" text-anchor="middle">4×10<tspan dy="-7.0" font-size="9.0">4</tspan></text><text x="485.10" y="589.80" text-anchor="middle">Cometocentric Distance (km)</text><text transform="translate(329.30 491.95) rotate(-90)" x="0" y="0" text-anchor="middle" font-size="14.2">Column Density of C<tspan dy="1.6" font-size="6.5">2</tspan><tspan dy="-1.6"> (cm</tspan><tspan dy="-7.5" font-size="10.5">−2</tspan><tspan dy="7.5">)</tspan></text><text transform="translate(422.90 452.70) scale(1 1.07)" x="0" y="0" font-size="15.3">150<tspan dy="-6.3" font-size="9.5">o</tspan></text><text transform="translate(518.90 452.70) scale(1 1.07)" x="0" y="0" font-size="15.3">330<tspan dy="-6.3" font-size="9.5">o</tspan></text></g><g><g><path d="M144.59 728.98L144.59 724.48M144.59 728.98L140.31 727.59M144.59 728.98L141.95 732.62M144.59 728.98L147.24 732.62M144.59 728.98L148.87 727.59M137.06 734.77L137.06 730.27M137.06 734.77L132.78 733.38M137.06 734.77L134.41 738.41M137.06 734.77L139.70 738.41M137.06 734.77L141.34 733.38M156.82 723.50L156.82 719.00M156.82 723.50L152.54 722.11M156.82 723.50L154.18 727.14M156.82 723.50L159.47 727.14M156.82 723.50L161.10 722.11M137.61 732.51L137.61 728.01M137.61 732.51L133.33 731.12M137.61 732.51L134.97 736.15M137.61 732.51L140.26 736.15M137.61 732.51L141.89 731.12M161.16 720.09L161.16 715.59M161.16 720.09L156.88 718.70M161.16 720.09L158.52 723.74M161.16 720.09L163.81 723.74M161.16 720.09L165.44 718.70M135.92 733.35L135.92 728.85M135.92 733.35L131.64 731.96M135.92 733.35L133.27 736.99M135.92 733.35L138.56 736.99M135.92 733.35L140.20 731.96M165.52 717.89L165.52 713.39M165.52 717.89L161.24 716.50M165.52 717.89L162.87 721.53M165.52 717.89L168.16 721.53M165.52 717.89L169.80 716.50M138.47 731.46L138.47 726.96M138.47 731.46L134.19 730.07M138.47 731.46L135.83 735.10M138.47 731.46L141.12 735.10M138.47 731.46L142.75 730.07M237.04 709.04L237.04 704.54M237.04 709.04L232.76 707.65M237.04 709.04L234.39 712.68M237.04 709.04L239.68 712.68M237.04 709.04L241.32 707.65M189.45 693.29L189.45 688.79M189.45 693.29L185.17 691.90M189.45 693.29L186.80 696.93M189.45 693.29L192.09 696.93M189.45 693.29L193.73 691.90M200.87 697.49L200.87 692.99M200.87 697.49L196.59 696.10M200.87 697.49L198.22 701.14M200.87 697.49L203.51 701.14M200.87 697.49L205.15 696.10M183.53 690.80L183.53 686.30M183.53 690.80L179.25 689.41M183.53 690.80L180.89 694.44M183.53 690.80L186.18 694.44M183.53 690.80L187.81 689.41M228.43 710.49L228.43 705.99M228.43 710.49L224.15 709.09M228.43 710.49L225.79 714.13M228.43 710.49L231.08 714.13M228.43 710.49L232.71 709.09M205.96 701.99L205.96 697.49M205.96 701.99L201.68 700.59M205.96 701.99L203.32 705.63M205.96 701.99L208.61 705.63M205.96 701.99L210.24 700.59M189.92 694.29L189.92 689.79M189.92 694.29L185.64 692.89M189.92 694.29L187.27 697.93M189.92 694.29L192.56 697.93M189.92 694.29L194.19 692.89M198.31 698.18L198.31 693.68M198.31 698.18L194.03 696.79M198.31 698.18L195.66 701.82M198.31 698.18L200.95 701.82M198.31 698.18L202.59 696.79M229.04 711.27L229.04 706.77M229.04 711.27L224.76 709.88M229.04 711.27L226.39 714.91M229.04 711.27L231.68 714.91M229.04 711.27L233.32 709.88M205.89 700.60L205.89 696.10M205.89 700.60L201.61 699.21M205.89 700.60L203.25 704.24M205.89 700.60L208.54 704.24M205.89 700.60L210.17 699.21M211.19 703.10L211.19 698.60M211.19 703.10L206.91 701.71M211.19 703.10L208.54 706.74M211.19 703.10L213.83 706.74M211.19 703.10L215.47 701.71M230.03 708.77L230.03 704.27M230.03 708.77L225.75 707.38M230.03 708.77L227.38 712.41M230.03 708.77L232.67 712.41M230.03 708.77L234.31 707.38M231.14 708.11L231.14 703.61M231.14 708.11L226.86 706.72M231.14 708.11L228.50 711.75M231.14 708.11L233.79 711.75M231.14 708.11L235.42 706.72M199.83 697.16L199.83 692.66M199.83 697.16L195.55 695.77M199.83 697.16L197.18 700.80M199.83 697.16L202.47 700.80M199.83 697.16L204.11 695.77M168.70 704.00L168.70 698.20M168.70 704.00L163.18 702.21M168.70 704.00L165.29 708.69M168.70 704.00L172.11 708.69M168.70 704.00L174.22 702.21" stroke="#8a8a8a" stroke-width="1.3" fill="none"/><g stroke="#000" stroke-width="1.5" fill="none"><path d="M131.46 731.60L136.76 736.90L131.46 742.20L126.16 736.90Z" fill="none"/><path d="M133.47 733.35L138.77 738.65L133.47 743.95L128.17 738.65Z" fill="none"/><path d="M134.59 735.56L139.89 740.86L134.59 746.16L129.29 740.86Z" fill="none"/><path d="M134.81 730.23L140.11 735.53L134.81 740.83L129.51 735.53Z" fill="none"/><path d="M136.58 732.87L141.88 738.17L136.58 743.47L131.28 738.17Z" fill="none"/><path d="M137.73 734.86L143.03 740.16L137.73 745.46L132.43 740.16Z" fill="none"/><path d="M139.23 727.90L144.53 733.20L139.23 738.50L133.93 733.20Z" fill="none"/><path d="M140.89 729.52L146.19 734.82L140.89 740.12L135.59 734.82Z" fill="none"/><path d="M142.10 731.84L147.40 737.14L142.10 742.44L136.80 737.14Z" fill="none"/><path d="M142.32 726.54L147.62 731.84L142.32 737.14L137.02 731.84Z" fill="none"/><path d="M144.54 730.24L149.84 735.54L144.54 740.84L139.24 735.54Z" fill="none"/><path d="M144.84 731.44L150.14 736.74L144.84 742.04L139.54 736.74Z" fill="none"/><path d="M146.72 725.91L152.02 731.21L146.72 736.51L141.42 731.21Z" fill="none"/><path d="M147.59 727.34L152.89 732.64L147.59 737.94L142.29 732.64Z" fill="none"/><path d="M149.05 730.36L154.35 735.66L149.05 740.96L143.75 735.66Z" fill="none"/><path d="M150.20 724.31L155.50 729.61L150.20 734.91L144.90 729.61Z" fill="none"/><path d="M151.49 724.23L156.79 729.53L151.49 734.83L146.19 729.53Z" fill="none"/><path d="M153.27 726.59L158.57 731.89L153.27 737.19L147.97 731.89Z" fill="none"/><path d="M153.78 721.10L159.08 726.40L153.78 731.70L148.48 726.40Z" fill="none"/><path d="M155.00 723.42L160.30 728.72L155.00 734.02L149.70 728.72Z" fill="none"/><path d="M157.04 724.64L162.34 729.94L157.04 735.24L151.74 729.94Z" fill="none"/><path d="M158.21 717.57L163.51 722.87L158.21 728.17L152.91 722.87Z" fill="none"/><path d="M159.18 719.58L164.48 724.88L159.18 730.18L153.88 724.88Z" fill="none"/><path d="M161.06 719.77L166.36 725.07L161.06 730.37L155.76 725.07Z" fill="none"/><path d="M162.31 714.45L167.61 719.75L162.31 725.05L157.01 719.75Z" fill="none"/><path d="M162.71 716.80L168.01 722.10L162.71 727.40L157.41 722.10Z" fill="none"/><path d="M164.84 717.25L170.14 722.55L164.84 727.85L159.54 722.55Z" fill="none"/><path d="M165.44 715.22L170.74 720.52L165.44 725.82L160.14 720.52Z" fill="none"/><path d="M166.52 715.19L171.82 720.49L166.52 725.79L161.22 720.49Z" fill="none"/><path d="M168.15 714.34L173.45 719.64L168.15 724.94L162.85 719.64Z" fill="none"/><path d="M169.69 714.05L174.99 719.35L169.69 724.65L164.39 719.35Z" fill="none"/><path d="M175.89 682.87L181.19 688.17L175.89 693.47L170.59 688.17Z" fill="none"/><path d="M176.47 683.63L181.77 688.93L176.47 694.23L171.17 688.93Z" fill="none"/><path d="M177.85 686.27L183.15 691.57L177.85 696.87L172.55 691.57Z" fill="none"/><path d="M179.47 683.28L184.77 688.58L179.47 693.88L174.17 688.58Z" fill="none"/><path d="M180.49 685.68L185.79 690.98L180.49 696.28L175.19 690.98Z" fill="none"/><path d="M182.58 690.41L187.88 695.71L182.58 701.01L177.28 695.71Z" fill="none"/><path d="M182.74 686.50L188.04 691.80L182.74 697.10L177.44 691.80Z" fill="none"/><path d="M184.01 688.27L189.31 693.57L184.01 698.87L178.71 693.57Z" fill="none"/><path d="M186.40 692.69L191.70 697.99L186.40 703.29L181.10 697.99Z" fill="none"/><path d="M187.35 687.16L192.65 692.46L187.35 697.76L182.05 692.46Z" fill="none"/><path d="M187.94 690.10L193.24 695.40L187.94 700.70L182.64 695.40Z" fill="none"/><path d="M189.10 691.52L194.40 696.82L189.10 702.12L183.80 696.82Z" fill="none"/><path d="M190.72 687.78L196.02 693.08L190.72 698.38L185.42 693.08Z" fill="none"/><path d="M192.01 692.67L197.31 697.97L192.01 703.27L186.71 697.97Z" fill="none"/><path d="M193.65 695.97L198.95 701.27L193.65 706.57L188.35 701.27Z" fill="none"/><path d="M194.84 691.81L200.14 697.11L194.84 702.41L189.54 697.11Z" fill="none"/><path d="M195.49 695.08L200.79 700.38L195.49 705.68L190.19 700.38Z" fill="none"/><path d="M197.09 697.85L202.39 703.15L197.09 708.45L191.79 703.15Z" fill="none"/><path d="M199.00 693.82L204.30 699.12L199.00 704.42L193.70 699.12Z" fill="none"/><path d="M199.84 696.18L205.14 701.48L199.84 706.78L194.54 701.48Z" fill="none"/><path d="M200.92 697.72L206.22 703.02L200.92 708.32L195.62 703.02Z" fill="none"/><path d="M202.57 696.65L207.87 701.95L202.57 707.25L197.27 701.95Z" fill="none"/><path d="M203.91 699.28L209.21 704.58L203.91 709.88L198.61 704.58Z" fill="none"/><path d="M205.27 702.60L210.57 707.90L205.27 713.20L199.97 707.90Z" fill="none"/><path d="M206.28 698.11L211.58 703.41L206.28 708.71L200.98 703.41Z" fill="none"/><path d="M207.13 701.26L212.43 706.56L207.13 711.86L201.83 706.56Z" fill="none"/><path d="M208.12 703.53L213.42 708.83L208.12 714.13L202.82 708.83Z" fill="none"/><path d="M210.26 701.22L215.56 706.52L210.26 711.82L204.96 706.52Z" fill="none"/><path d="M211.34 702.62L216.64 707.92L211.34 713.22L206.04 707.92Z" fill="none"/><path d="M212.35 705.16L217.65 710.46L212.35 715.76L207.05 710.46Z" fill="none"/><path d="M213.87 701.96L219.17 707.26L213.87 712.56L208.57 707.26Z" fill="none"/><path d="M215.20 705.06L220.50 710.36L215.20 715.66L209.90 710.36Z" fill="none"/><path d="M215.85 706.83L221.15 712.13L215.85 717.43L210.55 712.13Z" fill="none"/><path d="M217.87 703.43L223.17 708.73L217.87 714.03L212.57 708.73Z" fill="none"/><path d="M218.78 707.61L224.08 712.91L218.78 718.21L213.48 712.91Z" fill="none"/><path d="M219.47 709.55L224.77 714.85L219.47 720.15L214.17 714.85Z" fill="none"/><path d="M220.90 705.69L226.20 710.99L220.90 716.29L215.60 710.99Z" fill="none"/><path d="M223.16 708.51L228.46 713.81L223.16 719.11L217.86 713.81Z" fill="none"/><path d="M223.36 711.17L228.66 716.47L223.36 721.77L218.06 716.47Z" fill="none"/><path d="M225.19 707.33L230.49 712.63L225.19 717.93L219.89 712.63Z" fill="none"/><path d="M226.42 709.09L231.72 714.39L226.42 719.69L221.12 714.39Z" fill="none"/><path d="M228.09 710.45L233.39 715.75L228.09 721.05L222.79 715.75Z" fill="none"/><path d="M228.83 706.90L234.13 712.20L228.83 717.50L223.53 712.20Z" fill="none"/><path d="M229.84 708.12L235.14 713.42L229.84 718.72L224.54 713.42Z" fill="none"/><path d="M231.34 709.96L236.64 715.26L231.34 720.56L226.04 715.26Z" fill="none"/><path d="M232.27 706.21L237.57 711.51L232.27 716.81L226.97 711.51Z" fill="none"/><path d="M233.84 706.05L239.14 711.35L233.84 716.65L228.54 711.35Z" fill="none"/><path d="M235.00 708.50L240.30 713.80L235.00 719.10L229.70 713.80Z" fill="none"/><path d="M235.94 704.70L241.24 710.00L235.94 715.30L230.64 710.00Z" fill="none"/><path d="M237.73 707.33L243.03 712.63L237.73 717.93L232.43 712.63Z" fill="none"/><path d="M238.91 708.42L244.21 713.72L238.91 719.02L233.61 713.72Z" fill="none"/><path d="M240.02 705.95L245.32 711.25L240.02 716.55L234.72 711.25Z" fill="none"/><path d="M171.00 642.60L176.30 647.90L171.00 653.20L165.70 647.90Z" fill="none"/><path d="M167.30 687.40L172.60 692.70L167.30 698.00L162.00 692.70Z" fill="none"/><path d="M172.70 680.00L178.00 685.30L172.70 690.60L167.40 685.30Z" fill="none"/><path d="M238.40 696.10L243.70 701.40L238.40 706.70L233.10 701.40Z" fill="none"/><path d="M128.70 738.20L134.00 743.50L128.70 748.80L123.40 743.50Z" fill="none"/><path d="M132.00 735.70L137.30 741.00L132.00 746.30L126.70 741.00Z" fill="none"/><path d="M167.30 705.40L172.60 710.70L167.30 716.00L162.00 710.70Z" fill="#a8a8a8"/></g><path d="M77.70 748.90 L80.04 748.54 L83.06 748.12 L86.65 747.62 L90.69 747.07 L95.05 746.46 L99.62 745.81 L104.28 745.11 L108.90 744.39 L113.37 743.64 L117.58 742.87 L121.39 742.09 L124.70 741.30 L127.61 740.49 L130.31 739.65 L132.84 738.77 L135.20 737.87 L137.40 736.94 L139.47 735.99 L141.43 735.02 L143.28 734.03 L145.05 733.03 L146.75 732.02 L148.39 731.01 L150.00 730.00 L151.54 728.98 L152.98 727.93 L154.32 726.87 L155.57 725.79 L156.73 724.70 L157.81 723.61 L158.82 722.50 L159.77 721.40 L160.65 720.29 L161.48 719.19 L162.26 718.09 L163.00 717.00 L163.67 715.90 L164.25 714.78 L164.75 713.63 L165.19 712.48 L165.56 711.33 L165.88 710.19 L166.15 709.06 L166.40 707.96 L166.63 706.90 L166.85 705.88 L167.07 704.91 L167.30 704.00 L167.52 703.13 L167.72 702.28 L167.89 701.46 L168.03 700.67 L168.16 699.91 L168.27 699.19 L168.36 698.51 L168.44 697.89 L168.52 697.32 L168.58 696.81 L168.64 696.37 L168.70 696.00" stroke="#000" stroke-width="1.45" fill="none"/><path d="M172.90 648.80 L173.11 649.66 L173.37 650.73 L173.67 651.98 L174.01 653.39 L174.39 654.92 L174.78 656.54 L175.19 658.23 L175.61 659.94 L176.02 661.66 L176.43 663.35 L176.83 664.97 L177.20 666.50 L177.55 668.01 L177.89 669.56 L178.22 671.16 L178.55 672.77 L178.88 674.38 L179.21 675.97 L179.55 677.53 L179.90 679.03 L180.27 680.47 L180.66 681.82 L181.06 683.07 L181.50 684.20 L181.92 685.18 L182.28 686.02 L182.61 686.75 L182.93 687.38 L183.27 687.94 L183.64 688.46 L184.08 688.95 L184.60 689.46 L185.23 689.99 L185.99 690.57 L186.91 691.23 L188.00 692.00 L189.26 692.84 L190.67 693.72 L192.20 694.62 L193.86 695.56 L195.62 696.52 L197.47 697.51 L199.42 698.53 L201.43 699.58 L203.51 700.65 L205.64 701.74 L207.81 702.86 L210.00 704.00 L212.29 705.21 L214.72 706.51 L217.28 707.88 L219.92 709.30 L222.62 710.75 L225.36 712.19 L228.11 713.62 L230.83 715.00 L233.49 716.31 L236.08 717.53 L238.56 718.64 L240.90 719.60 L243.19 720.44 L245.50 721.19 L247.83 721.85 L250.12 722.44 L252.37 722.97 L254.53 723.42 L256.59 723.83 L258.51 724.19 L260.27 724.51 L261.84 724.79 L263.19 725.06 L264.30 725.30" stroke="#000" stroke-width="1.45" fill="none"/></g><path d="M89.36 765.50V762.17M89.36 632.20V635.53M101.03 765.50V762.17M101.03 632.20V635.53M112.69 765.50V762.17M112.69 632.20V635.53M124.35 765.50V758.70M124.35 632.20V639.00M136.01 765.50V762.17M136.01 632.20V635.53M147.68 765.50V762.17M147.68 632.20V635.53M159.34 765.50V762.17M159.34 632.20V635.53M171.00 765.50V758.70M171.00 632.20V639.00M182.66 765.50V762.17M182.66 632.20V635.53M194.33 765.50V762.17M194.33 632.20V635.53M205.99 765.50V762.17M205.99 632.20V635.53M217.65 765.50V758.70M217.65 632.20V639.00M229.31 765.50V762.17M229.31 632.20V635.53M240.98 765.50V762.17M240.98 632.20V635.53M252.64 765.50V762.17M252.64 632.20V635.53M77.70 758.84H82.37M264.30 758.84H259.63M77.70 752.17H82.37M264.30 752.17H259.63M77.70 745.50H82.37M264.30 745.50H259.63M77.70 738.84H87.22M264.30 738.84H254.78M77.70 732.17H82.37M264.30 732.17H259.63M77.70 725.51H82.37M264.30 725.51H259.63M77.70 718.85H82.37M264.30 718.85H259.63M77.70 712.18H87.22M264.30 712.18H254.78M77.70 705.51H82.37M264.30 705.51H259.63M77.70 698.85H82.37M264.30 698.85H259.63M77.70 692.19H82.37M264.30 692.19H259.63M77.70 685.52H87.22M264.30 685.52H254.78M77.70 678.86H82.37M264.30 678.86H259.63M77.70 672.19H82.37M264.30 672.19H259.63M77.70 665.53H82.37M264.30 665.53H259.63M77.70 658.86H87.22M264.30 658.86H254.78M77.70 652.20H82.37M264.30 652.20H259.63M77.70 645.53H82.37M264.30 645.53H259.63M77.70 638.87H82.37M264.30 638.87H259.63" stroke="#000" stroke-width="1.5" fill="none"/><rect x="77.70" y="632.20" width="186.60" height="133.30" stroke="#000" stroke-width="1.5" stroke-linejoin="round" fill="none"/><text x="70.90" y="770.80" text-anchor="end">0</text><text x="70.90" y="745.84" text-anchor="end">2×10<tspan dy="-7.0" font-size="9.0">9</tspan></text><text x="70.90" y="719.18" text-anchor="end">4×10<tspan dy="-7.0" font-size="9.0">9</tspan></text><text x="70.90" y="692.52" text-anchor="end">6×10<tspan dy="-7.0" font-size="9.0">9</tspan></text><text x="70.90" y="665.86" text-anchor="end">8×10<tspan dy="-7.0" font-size="9.0">9</tspan></text><text x="70.90" y="639.20" text-anchor="end">1×10<tspan dy="-7.0" font-size="9.0">10</tspan></text><text x="77.70" y="782.80" text-anchor="middle">−4×10<tspan dy="-7.0" font-size="9.0">4</tspan></text><text x="124.35" y="782.80" text-anchor="middle">−2×10<tspan dy="-7.0" font-size="9.0">4</tspan></text><text x="171.00" y="782.80" text-anchor="middle">0</text><text x="215.65" y="782.80" text-anchor="middle">2×10<tspan dy="-7.0" font-size="9.0">4</tspan></text><text x="262.10" y="782.80" text-anchor="middle">4×10<tspan dy="-7.0" font-size="9.0">4</tspan></text><text x="169.70" y="797.10" text-anchor="middle">Cometocentric Distance (km)</text><text transform="translate(15.20 697.35) rotate(-90)" x="0" y="0" text-anchor="middle" font-size="14.2">Column Density of C<tspan dy="1.6" font-size="6.5">2</tspan><tspan dy="-1.6"> (cm</tspan><tspan dy="-7.5" font-size="10.5">−2</tspan><tspan dy="7.5">)</tspan></text><text transform="translate(109.90 657.00) scale(1 1.07)" x="0" y="0" font-size="15.3">160<tspan dy="-6.3" font-size="9.5">o</tspan></text><text transform="translate(204.40 657.00) scale(1 1.07)" x="0" y="0" font-size="15.3">340<tspan dy="-6.3" font-size="9.5">o</tspan></text></g>
</svg>
</body></html>
